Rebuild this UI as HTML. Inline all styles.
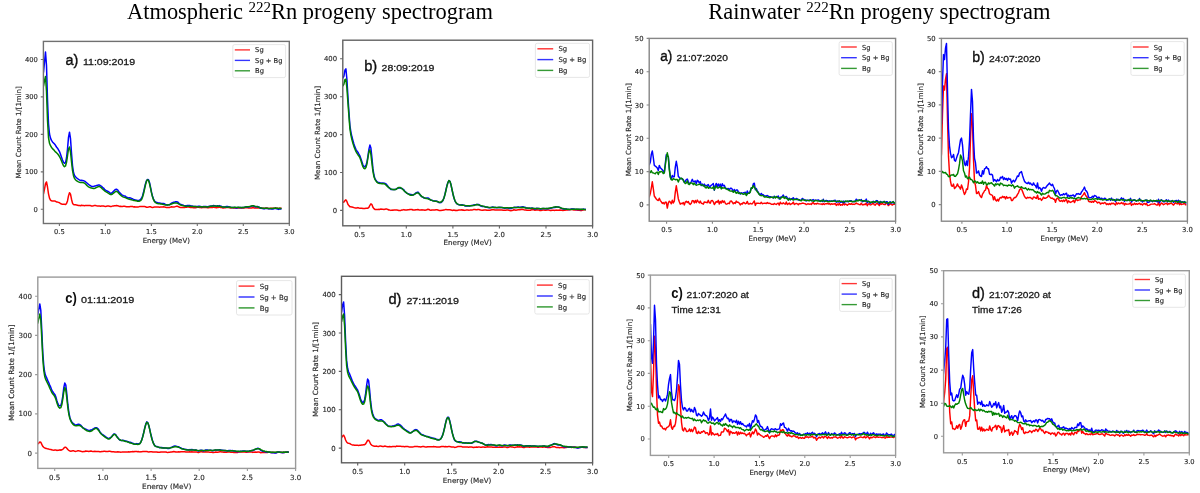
<!DOCTYPE html>
<html><head><meta charset="utf-8"><title>Rn progeny spectrograms</title><style>
html,body{margin:0;padding:0;background:#fff;}
body{width:1200px;height:493px;overflow:hidden;}
svg{display:block;}
.ttl{font-family:"Liberation Serif",serif;font-size:22.45px;fill:#000;}
.sup{font-size:15px;}
.fr{fill:none;stroke:#747474;stroke-width:1.4;}
.tk{fill:none;stroke:#666;stroke-width:1.1;}
.tl,.al,.lt{font-family:"DejaVu Sans",sans-serif;fill:#2a2a2a;stroke:#2a2a2a;stroke-width:0.15px;}
.lg{fill:#fff;fill-opacity:0.8;stroke:#e0e0e0;stroke-width:0.8;}
.an{font-family:"Liberation Sans",sans-serif;font-size:9.9px;fill:#1a1a1a;stroke:#1a1a1a;stroke-width:0.3px;}
.anl{font-family:"Liberation Sans",sans-serif;font-size:15.5px;fill:#111;stroke:#111;stroke-width:0.38px;}
.anb{font-weight:bold;stroke-width:0;}
</style></head><body>
<svg width="1200" height="493" viewBox="0 0 1200 493">
<defs>
<clipPath id="clAa"><rect x="43.4" y="41.4" width="245.9" height="182.1"/></clipPath>
<clipPath id="clAb"><rect x="342.8" y="40.2" width="249.8" height="185.6"/></clipPath>
<clipPath id="clAc"><rect x="37.8" y="277.1" width="257.8" height="191.3"/></clipPath>
<clipPath id="clAd"><rect x="341.5" y="276.3" width="251.1" height="186.5"/></clipPath>
<clipPath id="clRa"><rect x="649.2" y="38.4" width="246.4" height="182.8"/></clipPath>
<clipPath id="clRb"><rect x="941.4" y="38.4" width="246.0" height="182.8"/></clipPath>
<clipPath id="clRc"><rect x="650.4" y="275.1" width="245.2" height="180.3"/></clipPath>
<clipPath id="clRd"><rect x="943.6" y="270.7" width="245.7" height="182.1"/></clipPath>
<filter id="soft" x="0" y="0" width="1200" height="493" filterUnits="userSpaceOnUse"><feGaussianBlur stdDeviation="0.35"/></filter>
<clipPath id="clbot"><rect x="0" y="0" width="1200" height="489.6"/></clipPath>
</defs>
<rect width="1200" height="493" fill="#fff"/>
<text class="ttl" x="127" y="18.6">Atmospheric <tspan class="sup" dy="-6.6">222</tspan><tspan dy="6.6">Rn progeny spectrogram</tspan></text>
<text class="ttl" x="708.3" y="18.6">Rainwater <tspan class="sup" dy="-6.6">222</tspan><tspan dy="6.6">Rn progeny spectrogram</tspan></text>
<g filter="url(#soft)">
<g clip-path="url(#clAa)" fill="none" stroke-width="1.50" stroke-linejoin="round">
<path d="M42.5 195.6 L43.5 193.9 L44.5 189.2 L45.5 183.6 L46.5 182.0 L47.5 187.0 L48.5 193.8 L49.5 198.2 L50.5 200.1 L51.5 200.8 L52.5 201.1 L53.5 201.0 L54.5 200.9 L55.5 201.3 L56.5 201.9 L57.5 202.1 L58.5 202.4 L59.5 202.8 L60.5 203.5 L61.5 204.0 L62.5 204.2 L63.5 204.3 L64.5 204.3 L65.5 204.5 L66.5 203.6 L67.5 200.9 L68.5 195.9 L69.5 192.7 L70.5 194.2 L71.5 199.2 L72.5 203.1 L73.5 204.6 L74.5 204.8 L75.5 204.8 L76.5 205.0 L77.5 205.2 L78.5 205.5 L79.5 205.6 L80.5 205.7 L81.5 205.3 L82.5 205.5 L83.5 205.6 L84.5 205.7 L85.5 205.4 L86.5 205.4 L87.5 205.4 L88.5 205.4 L89.5 205.5 L90.5 205.6 L91.5 206.1 L92.5 205.9 L93.5 205.7 L94.5 205.4 L95.5 205.6 L96.5 205.8 L97.5 205.9 L98.5 206.1 L99.5 206.1 L100.5 206.2 L101.5 206.0 L102.5 205.9 L103.5 206.0 L104.5 206.3 L105.5 206.5 L106.5 206.3 L107.5 206.1 L108.5 206.1 L109.5 206.3 L110.5 206.5 L111.5 206.4 L112.5 206.1 L113.5 205.9 L114.5 205.7 L115.5 205.7 L116.5 205.6 L117.5 205.8 L118.5 206.0 L119.5 206.4 L120.5 206.2 L121.5 206.5 L122.5 206.4 L123.5 206.3 L124.5 206.3 L125.5 206.5 L126.5 206.7 L127.5 206.7 L128.5 206.7 L129.5 206.7 L130.5 206.4 L131.5 206.4 L132.5 206.5 L133.5 206.9 L134.5 206.8 L135.5 207.0 L136.5 207.0 L137.5 206.9 L138.5 206.9 L139.5 206.6 L140.5 206.6 L141.5 206.5 L142.5 206.6 L143.5 206.5 L144.5 206.6 L145.5 206.8 L146.5 207.2 L147.5 207.2 L148.5 207.0 L149.5 206.7 L150.5 206.8 L151.5 207.2 L152.5 207.4 L153.5 207.2 L154.5 207.1 L155.5 207.1 L156.5 207.1 L157.5 207.1 L158.5 207.1 L159.5 207.2 L160.5 207.1 L161.5 207.1 L162.5 206.9 L163.5 206.8 L164.5 206.9 L165.5 207.3 L166.5 207.4 L167.5 207.6 L168.5 207.6 L169.5 207.5 L170.5 207.1 L171.5 206.8 L172.5 207.0 L173.5 206.9 L174.5 206.9 L175.5 206.6 L176.5 206.3 L177.5 206.3 L178.5 206.7 L179.5 207.3 L180.5 207.4 L181.5 207.4 L182.5 207.5 L183.5 207.5 L184.5 207.6 L185.5 207.3 L186.5 207.2 L187.5 206.9 L188.5 207.1 L189.5 207.2 L190.5 207.4 L191.5 207.4 L192.5 207.5 L193.5 207.7 L194.5 207.8 L195.5 207.7 L196.5 207.5 L197.5 207.3 L198.5 207.3 L199.5 207.5 L200.5 207.6 L201.5 207.8 L202.5 207.5 L203.5 207.5 L204.5 207.3 L205.5 207.4 L206.5 207.5 L207.5 207.8 L208.5 207.7 L209.5 207.5 L210.5 207.6 L211.5 207.6 L212.5 207.5 L213.5 207.1 L214.5 207.4 L215.5 207.5 L216.5 207.8 L217.5 207.4 L218.5 207.4 L219.5 207.1 L220.5 207.5 L221.5 207.5 L222.5 207.9 L223.5 207.9 L224.5 207.8 L225.5 207.7 L226.5 207.6 L227.5 207.6 L228.5 207.6 L229.5 207.8 L230.5 208.0 L231.5 207.8 L232.5 207.8 L233.5 207.9 L234.5 207.9 L235.5 208.0 L236.5 208.1 L237.5 208.1 L238.5 207.8 L239.5 207.9 L240.5 207.9 L241.5 208.1 L242.5 208.0 L243.5 207.9 L244.5 207.9 L245.5 207.6 L246.5 207.8 L247.5 207.7 L248.5 207.9 L249.5 207.9 L250.5 207.9 L251.5 207.9 L252.5 207.7 L253.5 207.8 L254.5 208.0 L255.5 208.1 L256.5 208.1 L257.5 207.8 L258.5 207.9 L259.5 207.9 L260.5 208.3 L261.5 208.1 L262.5 208.2 L263.5 208.3 L264.5 208.4 L265.5 208.1 L266.5 208.1 L267.5 208.2 L268.5 208.5 L269.5 208.4 L270.5 208.2 L271.5 208.3 L272.5 208.2 L273.5 208.2 L274.5 208.2 L275.5 208.1 L276.5 208.3 L277.5 208.3 L278.5 208.6 L279.5 208.3 L280.5 208.2 L281.5 207.9" stroke="#ff0000"/>
<path d="M42.5 73.6 L43.5 72.3 L44.5 62.1 L45.5 52.1 L46.5 65.6 L47.5 99.4 L48.5 123.8 L49.5 134.0 L50.5 138.1 L51.5 140.4 L52.5 141.9 L53.5 143.0 L54.5 144.1 L55.5 145.3 L56.5 147.0 L57.5 148.2 L58.5 149.9 L59.5 151.6 L60.5 154.3 L61.5 157.3 L62.5 160.1 L63.5 162.4 L64.5 163.3 L65.5 162.6 L66.5 158.0 L67.5 149.0 L68.5 137.4 L69.5 132.2 L70.5 138.6 L71.5 153.0 L72.5 165.6 L73.5 172.6 L74.5 175.5 L75.5 176.8 L76.5 177.8 L77.5 178.5 L78.5 179.3 L79.5 180.0 L80.5 180.4 L81.5 180.3 L82.5 180.4 L83.5 180.7 L84.5 181.2 L85.5 181.7 L86.5 182.7 L87.5 183.5 L88.5 184.4 L89.5 185.1 L90.5 185.7 L91.5 186.5 L92.5 186.5 L93.5 186.5 L94.5 186.1 L95.5 185.9 L96.5 185.5 L97.5 185.3 L98.5 185.0 L99.5 185.1 L100.5 185.7 L101.5 186.3 L102.5 187.3 L103.5 188.0 L104.5 189.3 L105.5 190.2 L106.5 190.8 L107.5 191.2 L108.5 191.7 L109.5 192.5 L110.5 193.3 L111.5 193.2 L112.5 192.4 L113.5 191.2 L114.5 190.3 L115.5 189.4 L116.5 189.2 L117.5 189.8 L118.5 191.1 L119.5 192.6 L120.5 193.4 L121.5 194.6 L122.5 195.2 L123.5 195.7 L124.5 195.9 L125.5 196.3 L126.5 197.2 L127.5 197.5 L128.5 197.9 L129.5 197.8 L130.5 197.9 L131.5 198.4 L132.5 198.8 L133.5 199.5 L134.5 199.7 L135.5 200.1 L136.5 200.3 L137.5 200.5 L138.5 200.5 L139.5 200.1 L140.5 199.5 L141.5 198.2 L142.5 196.0 L143.5 192.3 L144.5 187.9 L145.5 183.7 L146.5 180.8 L147.5 179.4 L148.5 179.8 L149.5 182.5 L150.5 187.1 L151.5 192.1 L152.5 196.3 L153.5 199.1 L154.5 201.0 L155.5 201.8 L156.5 202.3 L157.5 202.6 L158.5 203.0 L159.5 203.1 L160.5 203.3 L161.5 203.5 L162.5 203.5 L163.5 203.5 L164.5 203.7 L165.5 204.6 L166.5 204.7 L167.5 205.0 L168.5 204.7 L169.5 204.8 L170.5 203.8 L171.5 203.2 L172.5 202.6 L173.5 202.3 L174.5 202.2 L175.5 201.8 L176.5 201.7 L177.5 201.9 L178.5 202.9 L179.5 203.8 L180.5 204.3 L181.5 204.6 L182.5 205.0 L183.5 205.3 L184.5 205.8 L185.5 205.7 L186.5 205.8 L187.5 205.4 L188.5 205.4 L189.5 205.4 L190.5 205.8 L191.5 206.0 L192.5 206.1 L193.5 206.4 L194.5 206.4 L195.5 206.5 L196.5 206.4 L197.5 206.4 L198.5 206.3 L199.5 206.3 L200.5 206.5 L201.5 206.8 L202.5 206.7 L203.5 206.5 L204.5 206.4 L205.5 206.4 L206.5 206.6 L207.5 206.7 L208.5 206.6 L209.5 206.2 L210.5 206.1 L211.5 205.9 L212.5 205.9 L213.5 205.5 L214.5 205.7 L215.5 205.9 L216.5 206.2 L217.5 205.8 L218.5 205.9 L219.5 205.6 L220.5 206.3 L221.5 206.3 L222.5 207.0 L223.5 207.1 L224.5 207.0 L225.5 206.8 L226.5 206.5 L227.5 206.6 L228.5 206.8 L229.5 207.0 L230.5 207.3 L231.5 207.5 L232.5 207.6 L233.5 207.5 L234.5 207.4 L235.5 207.7 L236.5 208.0 L237.5 207.8 L238.5 207.4 L239.5 207.5 L240.5 207.5 L241.5 207.8 L242.5 207.6 L243.5 207.5 L244.5 207.4 L245.5 206.9 L246.5 207.0 L247.5 206.7 L248.5 206.9 L249.5 206.7 L250.5 206.5 L251.5 206.2 L252.5 205.7 L253.5 206.0 L254.5 206.5 L255.5 206.9 L256.5 206.7 L257.5 206.5 L258.5 206.9 L259.5 207.5 L260.5 208.1 L261.5 208.2 L262.5 208.6 L263.5 208.7 L264.5 208.8 L265.5 208.4 L266.5 208.4 L267.5 208.5 L268.5 208.8 L269.5 208.8 L270.5 208.7 L271.5 209.0 L272.5 208.9 L273.5 208.9 L274.5 208.6 L275.5 208.3 L276.5 208.7 L277.5 208.9 L278.5 209.4 L279.5 208.9 L280.5 208.9 L281.5 208.7" stroke="#0000ff"/>
<path d="M42.5 85.8 L43.5 86.2 L44.5 80.7 L45.5 76.4 L46.5 91.5 L47.5 120.2 L48.5 137.5 L49.5 143.3 L50.5 145.7 L51.5 147.4 L52.5 148.6 L53.5 149.6 L54.5 150.8 L55.5 151.9 L56.5 152.8 L57.5 153.8 L58.5 155.0 L59.5 156.6 L60.5 158.5 L61.5 161.0 L62.5 163.5 L63.5 165.7 L64.5 166.7 L65.5 166.0 L66.5 162.3 L67.5 155.9 L68.5 149.0 L69.5 147.0 L70.5 152.0 L71.5 161.6 L72.5 170.3 L73.5 175.7 L74.5 178.4 L75.5 179.7 L76.5 180.7 L77.5 181.4 L78.5 181.9 L79.5 182.3 L80.5 182.5 L81.5 182.6 L82.5 182.5 L83.5 182.7 L84.5 183.2 L85.5 184.0 L86.5 185.1 L87.5 186.0 L88.5 186.8 L89.5 187.3 L90.5 187.7 L91.5 188.0 L92.5 188.3 L93.5 188.5 L94.5 188.4 L95.5 188.0 L96.5 187.4 L97.5 187.0 L98.5 186.6 L99.5 186.6 L100.5 187.1 L101.5 187.9 L102.5 189.0 L103.5 189.8 L104.5 190.8 L105.5 191.5 L106.5 192.2 L107.5 192.7 L108.5 193.3 L109.5 194.0 L110.5 194.5 L111.5 194.5 L112.5 194.0 L113.5 193.2 L114.5 192.4 L115.5 191.5 L116.5 191.3 L117.5 191.8 L118.5 192.9 L119.5 194.1 L120.5 195.0 L121.5 195.9 L122.5 196.6 L123.5 197.1 L124.5 197.4 L125.5 197.7 L126.5 198.2 L127.5 198.6 L128.5 199.0 L129.5 199.2 L130.5 199.5 L131.5 199.8 L132.5 200.1 L133.5 200.4 L134.5 200.5 L135.5 200.7 L136.5 200.8 L137.5 201.2 L138.5 201.2 L139.5 201.2 L140.5 200.7 L141.5 199.6 L142.5 197.3 L143.5 193.8 L144.5 189.3 L145.5 184.8 L146.5 181.2 L147.5 179.7 L148.5 180.5 L149.5 183.6 L150.5 188.2 L151.5 192.9 L152.5 196.8 L153.5 199.7 L154.5 201.6 L155.5 202.7 L156.5 203.2 L157.5 203.5 L158.5 203.8 L159.5 203.8 L160.5 203.9 L161.5 204.0 L162.5 204.3 L163.5 204.4 L164.5 204.8 L165.5 204.9 L166.5 204.9 L167.5 205.0 L168.5 204.7 L169.5 204.8 L170.5 204.3 L171.5 204.1 L172.5 203.5 L173.5 203.3 L174.5 203.1 L175.5 203.0 L176.5 203.0 L177.5 203.2 L178.5 203.8 L179.5 204.4 L180.5 205.0 L181.5 205.3 L182.5 205.6 L183.5 205.8 L184.5 206.1 L185.5 206.2 L186.5 206.4 L187.5 206.3 L188.5 206.3 L189.5 206.2 L190.5 206.3 L191.5 206.4 L192.5 206.6 L193.5 206.6 L194.5 206.6 L195.5 206.6 L196.5 206.7 L197.5 206.8 L198.5 206.9 L199.5 206.7 L200.5 206.7 L201.5 206.7 L202.5 206.9 L203.5 206.7 L204.5 206.7 L205.5 206.8 L206.5 206.9 L207.5 206.9 L208.5 206.7 L209.5 206.6 L210.5 206.3 L211.5 206.3 L212.5 206.1 L213.5 206.1 L214.5 206.0 L215.5 206.1 L216.5 206.2 L217.5 206.1 L218.5 206.2 L219.5 206.2 L220.5 206.5 L221.5 206.7 L222.5 206.9 L223.5 207.0 L224.5 207.1 L225.5 207.1 L226.5 207.2 L227.5 207.2 L228.5 207.1 L229.5 207.1 L230.5 207.3 L231.5 207.5 L232.5 207.5 L233.5 207.4 L234.5 207.3 L235.5 207.3 L236.5 207.4 L237.5 207.3 L238.5 207.3 L239.5 207.4 L240.5 207.4 L241.5 207.5 L242.5 207.4 L243.5 207.5 L244.5 207.2 L245.5 207.0 L246.5 206.8 L247.5 206.8 L248.5 206.8 L249.5 206.6 L250.5 206.3 L251.5 205.9 L252.5 205.8 L253.5 205.8 L254.5 206.1 L255.5 206.4 L256.5 206.6 L257.5 206.7 L258.5 207.1 L259.5 207.5 L260.5 207.9 L261.5 208.1 L262.5 208.2 L263.5 208.3 L264.5 208.3 L265.5 208.3 L266.5 208.2 L267.5 208.3 L268.5 208.4 L269.5 208.5 L270.5 208.5 L271.5 208.4 L272.5 208.4 L273.5 208.3 L274.5 208.3 L275.5 208.1 L276.5 208.3 L277.5 208.2 L278.5 208.4 L279.5 208.3 L280.5 208.5 L281.5 208.5" stroke="#008000"/>
</g>
<rect class="fr" style="stroke:#707070" x="43.4" y="41.4" width="245.9" height="182.1"/>
<text class="tl" style="font-size:6.75px" x="37.8" y="211.7" text-anchor="end">0</text>
<text class="tl" style="font-size:6.75px" x="37.8" y="174.3" text-anchor="end">100</text>
<text class="tl" style="font-size:6.75px" x="37.8" y="136.8" text-anchor="end">200</text>
<text class="tl" style="font-size:6.75px" x="37.8" y="99.4" text-anchor="end">300</text>
<text class="tl" style="font-size:6.75px" x="37.8" y="61.9" text-anchor="end">400</text>
<text class="tl" style="font-size:6.75px" x="59.4" y="234.2" text-anchor="middle">0.5</text>
<text class="tl" style="font-size:6.75px" x="105.4" y="234.2" text-anchor="middle">1.0</text>
<text class="tl" style="font-size:6.75px" x="151.4" y="234.2" text-anchor="middle">1.5</text>
<text class="tl" style="font-size:6.75px" x="197.3" y="234.2" text-anchor="middle">2.0</text>
<text class="tl" style="font-size:6.75px" x="243.3" y="234.2" text-anchor="middle">2.5</text>
<text class="tl" style="font-size:6.75px" x="289.3" y="234.2" text-anchor="middle">3.0</text>
<path class="tk" style="stroke:#707070" d="M40.8 209.3H43.4M40.8 171.9H43.4M40.8 134.4H43.4M40.8 96.9H43.4M40.8 59.5H43.4M59.4 223.5V226.1M105.4 223.5V226.1M151.4 223.5V226.1M197.3 223.5V226.1M243.3 223.5V226.1M289.3 223.5V226.1"/>
<text class="al" style="font-size:6.99px" transform="translate(20.9 132.4) rotate(-90)" text-anchor="middle">Mean Count Rate 1/[1min]</text>
<text class="al" style="font-size:6.99px" x="166.3" y="242.7" text-anchor="middle">Energy (MeV)</text>
<rect class="lg" x="232.8" y="44.6" width="52.8" height="33.0" rx="1.8"/>
<path d="M234.8 49.9H250.0" stroke="#ff0000" stroke-width="1.38" opacity="0.8"/>
<text class="lt" style="font-size:6.75px" x="255.1" y="52.4">Sg</text>
<path d="M234.8 60.4H250.0" stroke="#0000ff" stroke-width="1.38" opacity="0.8"/>
<text class="lt" style="font-size:6.75px" x="255.1" y="62.8">Sg + Bg</text>
<path d="M234.8 70.8H250.0" stroke="#008000" stroke-width="1.38" opacity="0.8"/>
<text class="lt" style="font-size:6.75px" x="255.1" y="73.3">Bg</text>
<text class="anl" x="65.4" y="65.3" textLength="12.9" lengthAdjust="spacingAndGlyphs">a)</text>
<text class="an" x="82.9" y="65.3" textLength="52.2" lengthAdjust="spacingAndGlyphs">11:09:2019</text>
<g clip-path="url(#clAb)" fill="none" stroke-width="1.50" stroke-linejoin="round">
<path d="M341.9 202.0 L342.9 202.3 L343.9 202.0 L344.9 200.7 L345.9 199.9 L346.9 201.4 L347.9 204.3 L348.9 205.6 L349.9 206.8 L350.9 206.7 L351.9 207.1 L352.9 207.3 L353.9 207.6 L354.9 207.9 L355.9 208.0 L356.9 208.0 L357.9 207.6 L358.9 208.0 L359.9 208.2 L360.9 208.3 L361.9 208.2 L362.9 208.4 L363.9 208.4 L364.9 208.4 L365.9 208.3 L366.9 208.3 L367.9 208.2 L368.9 207.4 L369.9 205.3 L370.9 203.8 L371.9 204.6 L372.9 207.2 L373.9 208.6 L374.9 209.4 L375.9 209.5 L376.9 209.6 L377.9 209.6 L378.9 209.3 L379.9 209.4 L380.9 209.0 L381.9 209.2 L382.9 209.3 L383.9 209.4 L384.9 209.2 L385.9 209.0 L386.9 209.1 L387.9 209.5 L388.9 210.0 L389.9 210.1 L390.9 210.4 L391.9 210.1 L392.9 210.2 L393.9 210.0 L394.9 210.0 L395.9 209.9 L396.9 210.0 L397.9 210.2 L398.9 210.5 L399.9 210.6 L400.9 210.4 L401.9 210.0 L402.9 209.9 L403.9 209.6 L404.9 210.1 L405.9 209.9 L406.9 210.0 L407.9 209.8 L408.9 209.8 L409.9 209.5 L410.9 209.5 L411.9 209.5 L412.9 210.0 L413.9 209.9 L414.9 210.0 L415.9 209.7 L416.9 209.8 L417.9 209.5 L418.9 209.9 L419.9 210.0 L420.9 210.1 L421.9 209.8 L422.9 209.9 L423.9 210.1 L424.9 210.3 L425.9 210.1 L426.9 209.7 L427.9 209.3 L428.9 209.5 L429.9 210.0 L430.9 210.3 L431.9 210.0 L432.9 210.0 L433.9 210.0 L434.9 210.0 L435.9 209.8 L436.9 209.7 L437.9 210.0 L438.9 210.4 L439.9 210.5 L440.9 210.6 L441.9 210.3 L442.9 210.3 L443.9 209.9 L444.9 209.7 L445.9 209.4 L446.9 209.7 L447.9 209.8 L448.9 209.8 L449.9 209.8 L450.9 210.0 L451.9 210.2 L452.9 210.4 L453.9 210.0 L454.9 210.4 L455.9 210.3 L456.9 210.6 L457.9 210.2 L458.9 210.0 L459.9 209.9 L460.9 209.9 L461.9 209.8 L462.9 210.2 L463.9 210.1 L464.9 210.4 L465.9 210.1 L466.9 210.0 L467.9 210.1 L468.9 210.2 L469.9 210.1 L470.9 209.9 L471.9 209.9 L472.9 209.7 L473.9 209.4 L474.9 209.6 L475.9 209.8 L476.9 209.8 L477.9 209.5 L478.9 209.5 L479.9 209.9 L480.9 210.1 L481.9 210.2 L482.9 210.2 L483.9 210.0 L484.9 210.0 L485.9 210.0 L486.9 210.3 L487.9 210.3 L488.9 210.3 L489.9 210.2 L490.9 210.0 L491.9 209.8 L492.9 209.7 L493.9 209.8 L494.9 209.9 L495.9 210.0 L496.9 210.1 L497.9 210.0 L498.9 210.1 L499.9 209.9 L500.9 210.0 L501.9 209.9 L502.9 210.2 L503.9 210.3 L504.9 210.2 L505.9 210.2 L506.9 209.9 L507.9 210.1 L508.9 210.3 L509.9 210.6 L510.9 210.8 L511.9 210.4 L512.9 210.2 L513.9 209.8 L514.9 210.0 L515.9 210.2 L516.9 210.1 L517.9 209.8 L518.9 209.7 L519.9 209.8 L520.9 209.5 L521.9 209.3 L522.9 209.4 L523.9 209.7 L524.9 209.9 L525.9 210.0 L526.9 210.2 L527.9 210.3 L528.9 210.3 L529.9 210.2 L530.9 210.2 L531.9 209.7 L532.9 209.8 L533.9 209.8 L534.9 210.2 L535.9 210.0 L536.9 209.8 L537.9 209.9 L538.9 210.1 L539.9 210.5 L540.9 210.5 L541.9 210.3 L542.9 210.1 L543.9 210.1 L544.9 210.2 L545.9 210.2 L546.9 210.0 L547.9 210.0 L548.9 210.1 L549.9 210.4 L550.9 210.5 L551.9 210.2 L552.9 210.3 L553.9 210.2 L554.9 210.4 L555.9 210.1 L556.9 210.2 L557.9 210.2 L558.9 210.2 L559.9 210.0 L560.9 210.3 L561.9 210.3 L562.9 210.5 L563.9 210.3 L564.9 210.2 L565.9 210.0 L566.9 209.8 L567.9 209.9 L568.9 209.8 L569.9 209.8 L570.9 209.5 L571.9 209.5 L572.9 209.7 L573.9 209.9 L574.9 209.9 L575.9 210.1 L576.9 210.1 L577.9 210.3 L578.9 210.1 L579.9 210.4 L580.9 210.5 L581.9 210.4 L582.9 210.0 L583.9 209.7 L584.9 209.7 L585.9 209.9" stroke="#ff0000"/>
<path d="M341.9 75.1 L342.9 78.0 L343.9 76.2 L344.9 70.3 L345.9 68.9 L346.9 79.3 L347.9 96.3 L348.9 111.5 L349.9 125.6 L350.9 132.1 L351.9 136.8 L352.9 140.5 L353.9 144.0 L354.9 146.9 L355.9 149.3 L356.9 151.0 L357.9 152.2 L358.9 154.1 L359.9 155.9 L360.9 158.7 L361.9 161.7 L362.9 164.8 L363.9 166.3 L364.9 166.8 L365.9 165.6 L366.9 162.3 L367.9 156.3 L368.9 149.4 L369.9 145.1 L370.9 148.1 L371.9 157.5 L372.9 168.4 L373.9 175.0 L374.9 178.6 L375.9 180.2 L376.9 181.6 L377.9 182.3 L378.9 182.4 L379.9 182.9 L380.9 182.9 L381.9 183.3 L382.9 183.1 L383.9 183.2 L384.9 183.3 L385.9 183.8 L386.9 185.0 L387.9 186.3 L388.9 187.6 L389.9 188.4 L390.9 189.4 L391.9 189.5 L392.9 189.6 L393.9 189.5 L394.9 189.6 L395.9 189.3 L396.9 188.7 L397.9 188.2 L398.9 187.8 L399.9 188.0 L400.9 188.3 L401.9 188.4 L402.9 189.2 L403.9 189.9 L404.9 191.6 L405.9 192.2 L406.9 193.2 L407.9 193.6 L408.9 194.0 L409.9 194.2 L410.9 194.6 L411.9 194.8 L412.9 195.1 L413.9 194.5 L414.9 193.8 L415.9 192.9 L416.9 192.5 L417.9 192.1 L418.9 193.2 L419.9 194.5 L420.9 195.9 L421.9 196.8 L422.9 197.1 L423.9 197.9 L424.9 198.1 L425.9 198.4 L426.9 198.0 L427.9 197.9 L428.9 198.4 L429.9 199.5 L430.9 200.3 L431.9 200.3 L432.9 200.7 L433.9 200.9 L434.9 201.1 L435.9 201.0 L436.9 201.2 L437.9 201.9 L438.9 202.6 L439.9 202.7 L440.9 202.6 L441.9 201.6 L442.9 200.6 L443.9 198.0 L444.9 194.6 L445.9 190.0 L446.9 185.8 L447.9 182.5 L448.9 180.6 L449.9 181.3 L450.9 184.3 L451.9 189.1 L452.9 193.7 L453.9 197.7 L454.9 200.9 L455.9 202.6 L456.9 203.9 L457.9 204.3 L458.9 204.8 L459.9 204.9 L460.9 204.9 L461.9 204.7 L462.9 205.0 L463.9 205.2 L464.9 205.9 L465.9 205.7 L466.9 205.9 L467.9 205.8 L468.9 206.0 L469.9 205.9 L470.9 205.6 L471.9 205.5 L472.9 205.3 L473.9 205.0 L474.9 204.8 L475.9 204.7 L476.9 204.5 L477.9 204.5 L478.9 204.6 L479.9 205.5 L480.9 206.0 L481.9 206.4 L482.9 206.5 L483.9 206.5 L484.9 206.6 L485.9 207.0 L486.9 207.3 L487.9 207.5 L488.9 207.7 L489.9 207.7 L490.9 207.5 L491.9 207.2 L492.9 207.0 L493.9 207.4 L494.9 207.4 L495.9 207.6 L496.9 207.7 L497.9 207.6 L498.9 207.6 L499.9 207.3 L500.9 207.5 L501.9 207.4 L502.9 207.8 L503.9 208.1 L504.9 208.2 L505.9 208.1 L506.9 207.7 L507.9 208.0 L508.9 208.4 L509.9 208.5 L510.9 208.4 L511.9 208.2 L512.9 207.7 L513.9 207.4 L514.9 207.2 L515.9 207.6 L516.9 207.2 L517.9 207.0 L518.9 207.1 L519.9 207.5 L520.9 207.1 L521.9 207.0 L522.9 206.8 L523.9 207.2 L524.9 207.2 L525.9 207.9 L526.9 208.1 L527.9 208.2 L528.9 208.2 L529.9 208.1 L530.9 208.5 L531.9 207.9 L532.9 208.4 L533.9 208.5 L534.9 209.0 L535.9 208.7 L536.9 208.3 L537.9 208.4 L538.9 208.4 L539.9 208.9 L540.9 209.0 L541.9 208.7 L542.9 208.5 L543.9 208.6 L544.9 208.7 L545.9 208.8 L546.9 208.6 L547.9 208.8 L548.9 208.4 L549.9 208.5 L550.9 208.2 L551.9 207.8 L552.9 207.8 L553.9 207.4 L554.9 207.5 L555.9 207.0 L556.9 207.0 L557.9 206.9 L558.9 207.1 L559.9 207.5 L560.9 208.2 L561.9 208.5 L562.9 208.9 L563.9 208.9 L564.9 209.1 L565.9 209.1 L566.9 209.1 L567.9 209.4 L568.9 209.4 L569.9 209.4 L570.9 209.1 L571.9 209.0 L572.9 209.0 L573.9 209.1 L574.9 209.2 L575.9 209.4 L576.9 209.4 L577.9 209.6 L578.9 209.2 L579.9 209.6 L580.9 209.5 L581.9 209.4 L582.9 209.3 L583.9 209.1 L584.9 209.4 L585.9 209.3" stroke="#0000ff"/>
<path d="M341.9 83.0 L342.9 85.8 L343.9 84.1 L344.9 79.7 L345.9 79.2 L346.9 88.1 L347.9 102.1 L348.9 115.7 L349.9 128.6 L350.9 135.1 L351.9 139.6 L352.9 143.2 L353.9 146.4 L354.9 149.0 L355.9 151.4 L356.9 153.1 L357.9 154.7 L358.9 156.0 L359.9 157.7 L360.9 160.5 L361.9 163.7 L362.9 166.7 L363.9 168.3 L364.9 168.7 L365.9 167.6 L366.9 164.1 L367.9 158.0 L368.9 151.9 L369.9 149.8 L370.9 154.4 L371.9 162.9 L372.9 171.2 L373.9 176.4 L374.9 179.3 L375.9 180.9 L376.9 182.2 L377.9 183.0 L378.9 183.3 L379.9 183.5 L380.9 183.6 L381.9 183.8 L382.9 183.6 L383.9 183.7 L384.9 184.2 L385.9 185.0 L386.9 185.9 L387.9 186.9 L388.9 187.6 L389.9 188.3 L390.9 188.9 L391.9 189.4 L392.9 189.4 L393.9 189.7 L394.9 189.5 L395.9 189.4 L396.9 188.6 L397.9 188.0 L398.9 187.4 L399.9 187.5 L400.9 187.8 L401.9 188.7 L402.9 189.5 L403.9 190.6 L404.9 191.5 L405.9 192.4 L406.9 193.2 L407.9 193.9 L408.9 194.4 L409.9 195.0 L410.9 195.3 L411.9 195.2 L412.9 195.1 L413.9 194.6 L414.9 194.1 L415.9 193.4 L416.9 193.0 L417.9 192.9 L418.9 193.5 L419.9 194.6 L420.9 195.6 L421.9 196.6 L422.9 197.1 L423.9 197.7 L424.9 198.0 L425.9 198.4 L426.9 198.6 L427.9 198.9 L428.9 199.2 L429.9 199.5 L430.9 200.0 L431.9 200.4 L432.9 200.7 L433.9 200.9 L434.9 201.2 L435.9 201.3 L436.9 201.5 L437.9 201.7 L438.9 202.2 L439.9 202.3 L440.9 202.1 L441.9 201.5 L442.9 200.3 L443.9 198.2 L444.9 194.8 L445.9 190.7 L446.9 186.2 L447.9 182.6 L448.9 180.5 L449.9 181.3 L450.9 184.4 L451.9 189.0 L452.9 193.5 L453.9 197.6 L454.9 200.5 L455.9 202.5 L456.9 203.6 L457.9 204.2 L458.9 204.6 L459.9 204.9 L460.9 205.1 L461.9 205.3 L462.9 205.2 L463.9 205.3 L464.9 205.6 L465.9 205.7 L466.9 205.8 L467.9 205.7 L468.9 205.7 L469.9 205.9 L470.9 205.8 L471.9 205.7 L472.9 205.6 L473.9 205.5 L474.9 205.1 L475.9 204.8 L476.9 204.5 L477.9 204.8 L478.9 204.9 L479.9 205.3 L480.9 205.6 L481.9 205.9 L482.9 206.1 L483.9 206.4 L484.9 206.9 L485.9 207.1 L486.9 207.0 L487.9 207.1 L488.9 207.4 L489.9 207.6 L490.9 207.6 L491.9 207.4 L492.9 207.3 L493.9 207.4 L494.9 207.3 L495.9 207.6 L496.9 207.6 L497.9 207.5 L498.9 207.3 L499.9 207.4 L500.9 207.6 L501.9 207.6 L502.9 207.7 L503.9 207.7 L504.9 207.9 L505.9 207.7 L506.9 207.8 L507.9 207.8 L508.9 207.9 L509.9 207.8 L510.9 207.8 L511.9 207.8 L512.9 207.7 L513.9 207.6 L514.9 207.5 L515.9 207.4 L516.9 207.4 L517.9 207.4 L518.9 207.4 L519.9 207.6 L520.9 207.5 L521.9 207.5 L522.9 207.3 L523.9 207.5 L524.9 207.8 L525.9 208.1 L526.9 208.1 L527.9 208.1 L528.9 208.3 L529.9 208.2 L530.9 208.4 L531.9 208.2 L532.9 208.3 L533.9 208.4 L534.9 208.5 L535.9 208.5 L536.9 208.4 L537.9 208.4 L538.9 208.5 L539.9 208.8 L540.9 208.7 L541.9 208.6 L542.9 208.5 L543.9 208.5 L544.9 208.5 L545.9 208.5 L546.9 208.5 L547.9 208.5 L548.9 208.3 L549.9 208.1 L550.9 207.8 L551.9 207.7 L552.9 207.4 L553.9 207.1 L554.9 206.9 L555.9 206.8 L556.9 207.0 L557.9 207.1 L558.9 207.2 L559.9 207.5 L560.9 207.9 L561.9 208.3 L562.9 208.6 L563.9 208.8 L564.9 209.0 L565.9 209.1 L566.9 209.3 L567.9 209.3 L568.9 209.3 L569.9 209.4 L570.9 209.4 L571.9 209.3 L572.9 209.3 L573.9 209.2 L574.9 209.2 L575.9 209.2 L576.9 209.1 L577.9 209.2 L578.9 209.2 L579.9 209.5 L580.9 209.2 L581.9 209.2 L582.9 209.3 L583.9 209.6 L584.9 209.6 L585.9 209.5" stroke="#008000"/>
</g>
<rect class="fr" style="stroke:#636363" x="342.8" y="40.2" width="249.8" height="185.6"/>
<text class="tl" style="font-size:6.88px" x="337.1" y="212.9" text-anchor="end">0</text>
<text class="tl" style="font-size:6.88px" x="337.1" y="175.0" text-anchor="end">100</text>
<text class="tl" style="font-size:6.88px" x="337.1" y="137.1" text-anchor="end">200</text>
<text class="tl" style="font-size:6.88px" x="337.1" y="99.2" text-anchor="end">300</text>
<text class="tl" style="font-size:6.88px" x="337.1" y="61.3" text-anchor="end">400</text>
<text class="tl" style="font-size:6.88px" x="359.7" y="236.7" text-anchor="middle">0.5</text>
<text class="tl" style="font-size:6.88px" x="406.3" y="236.7" text-anchor="middle">1.0</text>
<text class="tl" style="font-size:6.88px" x="452.9" y="236.7" text-anchor="middle">1.5</text>
<text class="tl" style="font-size:6.88px" x="499.4" y="236.7" text-anchor="middle">2.0</text>
<text class="tl" style="font-size:6.88px" x="546.0" y="236.7" text-anchor="middle">2.5</text>
<text class="tl" style="font-size:6.88px" x="592.6" y="236.7" text-anchor="middle">3.0</text>
<path class="tk" style="stroke:#636363" d="M340.1 210.4H342.8M340.1 172.5H342.8M340.1 134.6H342.8M340.1 96.7H342.8M340.1 58.8H342.8M359.7 225.8V228.5M406.3 225.8V228.5M452.9 225.8V228.5M499.4 225.8V228.5M546.0 225.8V228.5M592.6 225.8V228.5"/>
<text class="al" style="font-size:7.13px" transform="translate(319.9 133.0) rotate(-90)" text-anchor="middle">Mean Count Rate 1/[1min]</text>
<text class="al" style="font-size:7.13px" x="467.7" y="245.4" text-anchor="middle">Energy (MeV)</text>
<rect class="lg" x="535.4" y="43.3" width="54.2" height="34.1" rx="1.8"/>
<path d="M537.4 48.8H553.2" stroke="#ff0000" stroke-width="1.43" opacity="0.8"/>
<text class="lt" style="font-size:6.88px" x="558.4" y="51.3">Sg</text>
<path d="M537.4 59.6H553.2" stroke="#0000ff" stroke-width="1.43" opacity="0.8"/>
<text class="lt" style="font-size:6.88px" x="558.4" y="62.1">Sg + Bg</text>
<path d="M537.4 70.4H553.2" stroke="#008000" stroke-width="1.43" opacity="0.8"/>
<text class="lt" style="font-size:6.88px" x="558.4" y="72.9">Bg</text>
<text class="anl" x="364.2" y="71.0" textLength="13.1" lengthAdjust="spacingAndGlyphs">b)</text>
<text class="an" x="381.6" y="71.0" textLength="52.8" lengthAdjust="spacingAndGlyphs">28:09:2019</text>
<g clip-path="url(#clAc)" fill="none" stroke-width="1.50" stroke-linejoin="round">
<path d="M36.8 443.9 L37.8 443.9 L38.8 443.1 L39.8 441.9 L40.8 442.2 L41.8 444.4 L42.8 446.4 L43.8 447.3 L44.8 448.0 L45.8 448.4 L46.8 448.6 L47.8 448.9 L48.8 449.1 L49.8 449.4 L50.8 449.4 L51.8 449.9 L52.8 450.1 L53.8 450.2 L54.8 450.0 L55.8 450.0 L56.8 450.4 L57.8 450.2 L58.8 450.3 L59.8 449.8 L60.8 450.2 L61.8 449.8 L62.8 449.4 L63.8 448.1 L64.8 447.3 L65.8 447.3 L66.8 448.2 L67.8 449.5 L68.8 450.3 L69.8 451.0 L70.8 451.2 L71.8 451.0 L72.8 450.8 L73.8 450.8 L74.8 451.3 L75.8 451.4 L76.8 451.1 L77.8 450.8 L78.8 450.8 L79.8 451.1 L80.8 451.3 L81.8 451.6 L82.8 451.7 L83.8 451.6 L84.8 451.5 L85.8 451.0 L86.8 451.2 L87.8 451.2 L88.8 451.4 L89.8 451.2 L90.8 451.0 L91.8 451.3 L92.8 451.5 L93.8 451.4 L94.8 451.3 L95.8 451.5 L96.8 451.5 L97.8 451.4 L98.8 451.5 L99.8 451.7 L100.8 451.8 L101.8 451.6 L102.8 451.6 L103.8 451.3 L104.8 451.3 L105.8 451.5 L106.8 451.6 L107.8 451.6 L108.8 451.3 L109.8 451.3 L110.8 451.5 L111.8 451.7 L112.8 451.7 L113.8 451.8 L114.8 451.9 L115.8 451.9 L116.8 451.9 L117.8 451.7 L118.8 452.0 L119.8 452.1 L120.8 452.2 L121.8 452.1 L122.8 451.9 L123.8 452.0 L124.8 451.9 L125.8 452.1 L126.8 451.9 L127.8 452.0 L128.8 451.8 L129.8 451.9 L130.8 451.7 L131.8 451.8 L132.8 451.6 L133.8 451.8 L134.8 451.5 L135.8 451.6 L136.8 451.5 L137.8 451.8 L138.8 451.6 L139.8 451.9 L140.8 451.8 L141.8 451.7 L142.8 451.6 L143.8 451.5 L144.8 451.5 L145.8 451.5 L146.8 451.6 L147.8 451.8 L148.8 452.1 L149.8 451.8 L150.8 451.7 L151.8 451.7 L152.8 451.9 L153.8 452.1 L154.8 452.0 L155.8 452.0 L156.8 452.0 L157.8 452.3 L158.8 452.2 L159.8 452.3 L160.8 452.1 L161.8 452.0 L162.8 452.1 L163.8 452.0 L164.8 452.1 L165.8 452.0 L166.8 452.3 L167.8 452.4 L168.8 452.3 L169.8 452.2 L170.8 452.1 L171.8 452.0 L172.8 451.7 L173.8 451.5 L174.8 451.7 L175.8 452.0 L176.8 452.1 L177.8 452.0 L178.8 451.7 L179.8 451.9 L180.8 451.7 L181.8 451.8 L182.8 451.7 L183.8 451.8 L184.8 451.8 L185.8 451.9 L186.8 452.0 L187.8 451.9 L188.8 452.0 L189.8 451.8 L190.8 451.9 L191.8 451.7 L192.8 452.0 L193.8 452.0 L194.8 451.9 L195.8 451.9 L196.8 452.1 L197.8 452.4 L198.8 452.4 L199.8 452.0 L200.8 451.8 L201.8 451.7 L202.8 452.1 L203.8 452.1 L204.8 452.1 L205.8 451.8 L206.8 451.9 L207.8 451.9 L208.8 452.1 L209.8 452.2 L210.8 452.3 L211.8 452.3 L212.8 452.5 L213.8 452.4 L214.8 452.3 L215.8 452.1 L216.8 452.3 L217.8 452.2 L218.8 452.1 L219.8 451.8 L220.8 451.8 L221.8 451.9 L222.8 452.0 L223.8 452.2 L224.8 452.1 L225.8 452.3 L226.8 452.2 L227.8 452.1 L228.8 452.0 L229.8 452.1 L230.8 452.3 L231.8 452.2 L232.8 452.3 L233.8 452.4 L234.8 452.4 L235.8 452.4 L236.8 452.3 L237.8 452.4 L238.8 452.1 L239.8 451.9 L240.8 451.7 L241.8 452.0 L242.8 451.9 L243.8 451.9 L244.8 451.9 L245.8 452.2 L246.8 452.2 L247.8 452.0 L248.8 452.0 L249.8 451.8 L250.8 452.1 L251.8 452.0 L252.8 452.4 L253.8 452.1 L254.8 452.2 L255.8 452.1 L256.8 452.2 L257.8 452.0 L258.8 452.1 L259.8 452.3 L260.8 452.7 L261.8 452.5 L262.8 452.5 L263.8 452.3 L264.8 452.4 L265.8 452.5 L266.8 452.5 L267.8 452.4 L268.8 452.1 L269.8 452.3 L270.8 452.4 L271.8 452.6 L272.8 452.3 L273.8 452.4 L274.8 452.4 L275.8 452.6 L276.8 452.4 L277.8 452.3 L278.8 452.2 L279.8 452.3 L280.8 452.3 L281.8 452.5 L282.8 452.5 L283.8 452.4 L284.8 452.2 L285.8 452.2 L286.8 452.0 L287.8 452.2 L288.8 452.3" stroke="#ff0000"/>
<path d="M36.8 314.6 L37.8 314.6 L38.8 309.1 L39.8 303.9 L40.8 310.3 L41.8 330.9 L42.8 353.1 L43.8 366.0 L44.8 373.0 L45.8 376.2 L46.8 378.2 L47.8 380.6 L48.8 382.7 L49.8 385.4 L50.8 387.4 L51.8 390.2 L52.8 391.8 L53.8 393.2 L54.8 394.4 L55.8 396.7 L56.8 400.5 L57.8 403.4 L58.8 405.5 L59.8 405.8 L60.8 405.5 L61.8 402.2 L62.8 396.0 L63.8 387.6 L64.8 383.0 L65.8 385.1 L66.8 393.9 L67.8 404.2 L68.8 412.1 L69.8 417.2 L70.8 420.2 L71.8 421.9 L72.8 423.0 L73.8 423.9 L74.8 424.8 L75.8 425.0 L76.8 424.8 L77.8 424.3 L78.8 424.2 L79.8 424.6 L80.8 425.3 L81.8 426.5 L82.8 427.7 L83.8 428.1 L84.8 428.9 L85.8 429.0 L86.8 429.8 L87.8 430.1 L88.8 430.4 L89.8 430.5 L90.8 430.0 L91.8 429.9 L92.8 429.2 L93.8 428.6 L94.8 428.0 L95.8 427.8 L96.8 427.8 L97.8 428.6 L98.8 429.8 L99.8 431.7 L100.8 433.1 L101.8 434.1 L102.8 434.7 L103.8 435.5 L104.8 436.1 L105.8 437.0 L106.8 437.6 L107.8 438.4 L108.8 438.4 L109.8 438.0 L110.8 437.4 L111.8 436.5 L112.8 435.2 L113.8 434.0 L114.8 434.1 L115.8 434.9 L116.8 436.4 L117.8 437.6 L118.8 439.1 L119.8 440.0 L120.8 440.4 L121.8 440.5 L122.8 440.3 L123.8 440.6 L124.8 440.7 L125.8 441.2 L126.8 441.3 L127.8 441.7 L128.8 441.8 L129.8 442.5 L130.8 442.3 L131.8 443.0 L132.8 443.2 L133.8 444.0 L134.8 443.9 L135.8 444.0 L136.8 443.6 L137.8 444.0 L138.8 443.7 L139.8 443.6 L140.8 442.1 L141.8 439.7 L142.8 436.3 L143.8 432.2 L144.8 427.7 L145.8 424.0 L146.8 421.9 L147.8 422.6 L148.8 425.8 L149.8 429.6 L150.8 434.3 L151.8 438.0 L152.8 441.6 L153.8 444.0 L154.8 445.7 L155.8 446.4 L156.8 446.4 L157.8 446.9 L158.8 447.3 L159.8 447.7 L160.8 447.6 L161.8 447.5 L162.8 447.9 L163.8 447.8 L164.8 448.1 L165.8 447.9 L166.8 448.2 L167.8 448.5 L168.8 448.4 L169.8 448.2 L170.8 447.5 L171.8 447.2 L172.8 446.6 L173.8 446.3 L174.8 446.1 L175.8 446.3 L176.8 446.5 L177.8 446.7 L178.8 446.8 L179.8 447.4 L180.8 447.9 L181.8 448.5 L182.8 448.7 L183.8 449.0 L184.8 449.2 L185.8 449.4 L186.8 449.6 L187.8 449.7 L188.8 449.9 L189.8 449.6 L190.8 449.7 L191.8 449.5 L192.8 449.8 L193.8 449.9 L194.8 449.9 L195.8 450.1 L196.8 450.3 L197.8 450.8 L198.8 450.9 L199.8 450.4 L200.8 450.2 L201.8 450.3 L202.8 450.7 L203.8 450.9 L204.8 450.5 L205.8 449.9 L206.8 450.0 L207.8 450.1 L208.8 450.4 L209.8 450.3 L210.8 450.3 L211.8 450.4 L212.8 450.7 L213.8 450.4 L214.8 450.3 L215.8 449.9 L216.8 450.2 L217.8 449.9 L218.8 449.9 L219.8 449.7 L220.8 450.1 L221.8 450.3 L222.8 450.3 L223.8 450.5 L224.8 450.4 L225.8 450.7 L226.8 450.8 L227.8 450.7 L228.8 450.6 L229.8 450.6 L230.8 450.6 L231.8 450.7 L232.8 450.6 L233.8 451.1 L234.8 451.1 L235.8 451.5 L236.8 451.4 L237.8 451.7 L238.8 451.4 L239.8 451.4 L240.8 451.2 L241.8 451.3 L242.8 451.1 L243.8 451.1 L244.8 451.1 L245.8 451.2 L246.8 451.4 L247.8 451.3 L248.8 451.4 L249.8 450.8 L250.8 450.8 L251.8 450.4 L252.8 450.7 L253.8 450.0 L254.8 449.7 L255.8 449.1 L256.8 448.7 L257.8 448.3 L258.8 448.5 L259.8 449.3 L260.8 450.4 L261.8 450.9 L262.8 451.3 L263.8 451.4 L264.8 451.6 L265.8 452.0 L266.8 452.1 L267.8 452.1 L268.8 451.9 L269.8 452.3 L270.8 452.5 L271.8 452.7 L272.8 452.5 L273.8 452.7 L274.8 452.9 L275.8 453.1 L276.8 452.6 L277.8 452.0 L278.8 452.0 L279.8 452.1 L280.8 452.5 L281.8 452.6 L282.8 452.8 L283.8 452.6 L284.8 452.4 L285.8 452.1 L286.8 452.2 L287.8 452.1 L288.8 452.3" stroke="#0000ff"/>
<path d="M36.8 322.9 L37.8 323.0 L38.8 318.3 L39.8 314.1 L40.8 319.9 L41.8 338.4 L42.8 358.5 L43.8 370.7 L44.8 376.8 L45.8 379.7 L46.8 381.6 L47.8 383.7 L48.8 385.7 L49.8 388.2 L50.8 390.3 L51.8 392.5 L52.8 393.9 L53.8 395.0 L54.8 396.6 L55.8 399.0 L56.8 402.4 L57.8 405.3 L58.8 407.3 L59.8 408.2 L60.8 407.7 L61.8 404.8 L62.8 398.9 L63.8 391.7 L64.8 387.6 L65.8 389.8 L66.8 397.8 L67.8 407.1 L68.8 414.1 L69.8 418.3 L70.8 420.9 L71.8 422.8 L72.8 424.1 L73.8 425.0 L74.8 425.5 L75.8 425.7 L76.8 425.8 L77.8 425.6 L78.8 425.5 L79.8 425.5 L80.8 426.1 L81.8 426.8 L82.8 427.8 L83.8 428.5 L84.8 429.4 L85.8 430.0 L86.8 430.7 L87.8 431.1 L88.8 431.2 L89.8 431.4 L90.8 431.2 L91.8 430.8 L92.8 430.0 L93.8 429.3 L94.8 428.6 L95.8 428.3 L96.8 428.5 L97.8 429.5 L98.8 430.7 L99.8 432.2 L100.8 433.5 L101.8 434.5 L102.8 435.3 L103.8 436.2 L104.8 436.9 L105.8 437.7 L106.8 438.2 L107.8 438.8 L108.8 439.0 L109.8 438.7 L110.8 437.8 L111.8 436.8 L112.8 435.5 L113.8 434.4 L114.8 434.4 L115.8 435.2 L116.8 436.8 L117.8 438.0 L118.8 439.0 L119.8 439.8 L120.8 440.2 L121.8 440.4 L122.8 440.5 L123.8 440.8 L124.8 441.2 L125.8 441.5 L126.8 441.6 L127.8 442.1 L128.8 442.3 L129.8 442.9 L130.8 443.0 L131.8 443.4 L132.8 443.7 L133.8 444.0 L134.8 444.3 L135.8 444.3 L136.8 444.3 L137.8 444.4 L138.8 444.3 L139.8 443.7 L140.8 442.3 L141.8 439.9 L142.8 436.6 L143.8 432.5 L144.8 428.2 L145.8 424.4 L146.8 422.3 L147.8 422.8 L148.8 425.5 L149.8 429.8 L150.8 434.6 L151.8 438.7 L152.8 441.9 L153.8 444.2 L154.8 445.8 L155.8 446.4 L156.8 446.7 L157.8 446.9 L158.8 447.2 L159.8 447.4 L160.8 447.7 L161.8 447.9 L162.8 448.0 L163.8 448.1 L164.8 448.0 L165.8 448.1 L166.8 448.1 L167.8 448.1 L168.8 448.0 L169.8 447.9 L170.8 447.7 L171.8 447.5 L172.8 447.2 L173.8 446.9 L174.8 446.7 L175.8 446.6 L176.8 446.7 L177.8 447.0 L178.8 447.4 L179.8 447.7 L180.8 448.3 L181.8 448.8 L182.8 449.1 L183.8 449.3 L184.8 449.6 L185.8 449.7 L186.8 449.9 L187.8 449.9 L188.8 449.9 L189.8 449.9 L190.8 450.0 L191.8 450.1 L192.8 450.1 L193.8 450.1 L194.8 450.2 L195.8 450.1 L196.8 450.3 L197.8 450.4 L198.8 450.7 L199.8 450.6 L200.8 450.6 L201.8 450.6 L202.8 450.5 L203.8 450.5 L204.8 450.5 L205.8 450.5 L206.8 450.5 L207.8 450.5 L208.8 450.3 L209.8 450.2 L210.8 450.3 L211.8 450.4 L212.8 450.4 L213.8 450.2 L214.8 450.1 L215.8 450.0 L216.8 450.0 L217.8 450.0 L218.8 450.0 L219.8 450.0 L220.8 450.2 L221.8 450.4 L222.8 450.5 L223.8 450.4 L224.8 450.4 L225.8 450.5 L226.8 450.9 L227.8 450.9 L228.8 450.9 L229.8 450.9 L230.8 450.7 L231.8 450.8 L232.8 450.7 L233.8 450.9 L234.8 450.9 L235.8 451.1 L236.8 451.2 L237.8 451.3 L238.8 451.2 L239.8 451.4 L240.8 451.3 L241.8 451.4 L242.8 451.2 L243.8 451.3 L244.8 451.3 L245.8 451.2 L246.8 451.3 L247.8 451.3 L248.8 451.2 L249.8 450.9 L250.8 450.7 L251.8 450.5 L252.8 450.2 L253.8 449.9 L254.8 449.3 L255.8 449.1 L256.8 448.7 L257.8 448.7 L258.8 448.7 L259.8 449.0 L260.8 449.6 L261.8 450.1 L262.8 450.7 L263.8 451.0 L264.8 451.3 L265.8 451.5 L266.8 451.6 L267.8 452.0 L268.8 452.0 L269.8 452.2 L270.8 452.1 L271.8 452.2 L272.8 452.2 L273.8 452.3 L274.8 452.3 L275.8 452.3 L276.8 452.1 L277.8 452.0 L278.8 452.1 L279.8 452.2 L280.8 452.3 L281.8 452.2 L282.8 452.3 L283.8 452.1 L284.8 452.2 L285.8 452.1 L286.8 452.2 L287.8 452.1 L288.8 452.0" stroke="#008000"/>
</g>
<rect class="fr" style="stroke:#9a9a9a" x="37.8" y="277.1" width="257.8" height="191.3"/>
<text class="tl" style="font-size:7.05px" x="31.9" y="455.6" text-anchor="end">0</text>
<text class="tl" style="font-size:7.05px" x="31.9" y="416.4" text-anchor="end">100</text>
<text class="tl" style="font-size:7.05px" x="31.9" y="377.2" text-anchor="end">200</text>
<text class="tl" style="font-size:7.05px" x="31.9" y="338.0" text-anchor="end">300</text>
<text class="tl" style="font-size:7.05px" x="31.9" y="298.7" text-anchor="end">400</text>
<text class="tl" style="font-size:7.05px" x="54.7" y="479.6" text-anchor="middle">0.5</text>
<text class="tl" style="font-size:7.05px" x="102.9" y="479.6" text-anchor="middle">1.0</text>
<text class="tl" style="font-size:7.05px" x="151.1" y="479.6" text-anchor="middle">1.5</text>
<text class="tl" style="font-size:7.05px" x="199.2" y="479.6" text-anchor="middle">2.0</text>
<text class="tl" style="font-size:7.05px" x="247.4" y="479.6" text-anchor="middle">2.5</text>
<text class="tl" style="font-size:7.05px" x="295.6" y="479.6" text-anchor="middle">3.0</text>
<path class="tk" style="stroke:#9a9a9a" d="M35.1 453.1H37.8M35.1 413.9H37.8M35.1 374.6H37.8M35.1 335.4H37.8M35.1 296.2H37.8M54.7 468.4V471.1M102.9 468.4V471.1M151.1 468.4V471.1M199.2 468.4V471.1M247.4 468.4V471.1M295.6 468.4V471.1"/>
<text class="al" style="font-size:7.30px" transform="translate(14.3 372.8) rotate(-90)" text-anchor="middle">Mean Count Rate 1/[1min]</text>
<text class="al" clip-path="url(#clbot)" style="font-size:7.30px" x="166.7" y="488.5" text-anchor="middle">Energy (MeV)</text>
<rect class="lg" x="236.5" y="280.6" width="55.5" height="34.4" rx="1.8"/>
<path d="M238.6 286.1H254.5" stroke="#ff0000" stroke-width="1.44" opacity="0.8"/>
<text class="lt" style="font-size:7.05px" x="259.7" y="288.7">Sg</text>
<path d="M238.6 297.0H254.5" stroke="#0000ff" stroke-width="1.44" opacity="0.8"/>
<text class="lt" style="font-size:7.05px" x="259.7" y="299.6">Sg + Bg</text>
<path d="M238.6 307.9H254.5" stroke="#008000" stroke-width="1.44" opacity="0.8"/>
<text class="lt" style="font-size:7.05px" x="259.7" y="310.5">Bg</text>
<text class="anl anb" x="65.2" y="303.0" textLength="11.6" lengthAdjust="spacingAndGlyphs">c)</text>
<text class="an" x="81.1" y="303.0" textLength="53.3" lengthAdjust="spacingAndGlyphs">01:11:2019</text>
<g clip-path="url(#clAd)" fill="none" stroke-width="1.50" stroke-linejoin="round">
<path d="M340.6 438.5 L341.6 437.6 L342.6 436.0 L343.6 435.2 L344.6 437.0 L345.6 440.0 L346.6 442.0 L347.6 443.0 L348.6 443.3 L349.6 443.4 L350.6 444.1 L351.6 444.6 L352.6 445.0 L353.6 445.0 L354.6 445.2 L355.6 445.2 L356.6 445.3 L357.6 445.3 L358.6 445.4 L359.6 445.3 L360.6 445.3 L361.6 445.0 L362.6 445.0 L363.6 444.8 L364.6 444.7 L365.6 443.9 L366.6 442.2 L367.6 440.3 L368.6 440.2 L369.6 441.8 L370.6 444.0 L371.6 445.1 L372.6 445.6 L373.6 446.1 L374.6 446.2 L375.6 446.2 L376.6 446.1 L377.6 446.4 L378.6 446.5 L379.6 446.1 L380.6 446.1 L381.6 446.2 L382.6 446.4 L383.6 446.5 L384.6 446.1 L385.6 446.3 L386.6 446.6 L387.6 446.8 L388.6 446.8 L389.6 446.5 L390.6 446.8 L391.6 446.7 L392.6 446.5 L393.6 446.4 L394.6 446.4 L395.6 446.7 L396.6 446.1 L397.6 446.2 L398.6 446.2 L399.6 446.3 L400.6 446.3 L401.6 446.4 L402.6 446.5 L403.6 446.6 L404.6 446.8 L405.6 446.6 L406.6 446.6 L407.6 446.4 L408.6 446.7 L409.6 446.9 L410.6 447.0 L411.6 447.1 L412.6 446.9 L413.6 446.8 L414.6 446.6 L415.6 446.6 L416.6 446.5 L417.6 446.6 L418.6 446.7 L419.6 446.7 L420.6 446.9 L421.6 446.7 L422.6 446.6 L423.6 446.5 L424.6 446.8 L425.6 446.9 L426.6 447.0 L427.6 446.7 L428.6 446.8 L429.6 446.8 L430.6 446.8 L431.6 446.7 L432.6 446.7 L433.6 446.6 L434.6 446.8 L435.6 446.7 L436.6 446.9 L437.6 447.0 L438.6 447.0 L439.6 447.0 L440.6 446.7 L441.6 446.5 L442.6 446.5 L443.6 446.5 L444.6 446.7 L445.6 446.6 L446.6 446.7 L447.6 446.7 L448.6 446.4 L449.6 446.5 L450.6 446.7 L451.6 446.9 L452.6 447.0 L453.6 446.9 L454.6 447.4 L455.6 447.3 L456.6 447.1 L457.6 446.6 L458.6 446.6 L459.6 446.5 L460.6 446.6 L461.6 446.6 L462.6 447.0 L463.6 447.0 L464.6 447.0 L465.6 446.9 L466.6 447.0 L467.6 447.1 L468.6 447.2 L469.6 447.1 L470.6 447.1 L471.6 447.1 L472.6 447.2 L473.6 447.5 L474.6 447.2 L475.6 447.2 L476.6 447.0 L477.6 447.2 L478.6 446.9 L479.6 447.1 L480.6 447.2 L481.6 447.3 L482.6 447.0 L483.6 447.0 L484.6 447.2 L485.6 447.2 L486.6 447.0 L487.6 446.8 L488.6 447.0 L489.6 447.1 L490.6 447.1 L491.6 446.9 L492.6 447.2 L493.6 447.2 L494.6 447.3 L495.6 447.3 L496.6 447.3 L497.6 447.3 L498.6 447.2 L499.6 447.1 L500.6 447.3 L501.6 447.3 L502.6 447.3 L503.6 447.1 L504.6 446.9 L505.6 447.1 L506.6 447.4 L507.6 447.5 L508.6 447.3 L509.6 446.8 L510.6 446.8 L511.6 446.9 L512.6 447.1 L513.6 447.3 L514.6 447.4 L515.6 447.2 L516.6 447.0 L517.6 446.7 L518.6 447.0 L519.6 446.8 L520.6 446.9 L521.6 446.8 L522.6 447.2 L523.6 447.4 L524.6 447.4 L525.6 447.0 L526.6 446.8 L527.6 446.9 L528.6 447.1 L529.6 447.3 L530.6 447.1 L531.6 447.0 L532.6 446.9 L533.6 447.0 L534.6 447.0 L535.6 447.0 L536.6 446.9 L537.6 447.2 L538.6 447.2 L539.6 447.1 L540.6 447.0 L541.6 447.1 L542.6 447.2 L543.6 447.0 L544.6 446.9 L545.6 447.3 L546.6 447.3 L547.6 447.6 L548.6 447.5 L549.6 447.5 L550.6 447.4 L551.6 447.1 L552.6 446.8 L553.6 446.7 L554.6 446.7 L555.6 447.2 L556.6 447.4 L557.6 447.6 L558.6 447.6 L559.6 447.7 L560.6 447.6 L561.6 447.6 L562.6 447.6 L563.6 447.7 L564.6 447.8 L565.6 447.6 L566.6 447.4 L567.6 447.1 L568.6 447.0 L569.6 447.1 L570.6 447.1 L571.6 447.5 L572.6 447.1 L573.6 447.1 L574.6 446.9 L575.6 447.3 L576.6 447.5 L577.6 447.7 L578.6 447.6 L579.6 447.6 L580.6 447.3 L581.6 447.3 L582.6 447.3 L583.6 447.4 L584.6 447.3 L585.6 447.5 L586.6 447.5 L587.6 447.5" stroke="#ff0000"/>
<path d="M340.6 314.3 L341.6 311.9 L342.6 305.0 L343.6 301.9 L344.6 315.8 L345.6 341.2 L346.6 360.4 L347.6 368.3 L348.6 372.0 L349.6 373.9 L350.6 376.5 L351.6 379.1 L352.6 381.7 L353.6 383.5 L354.6 385.5 L355.6 386.8 L356.6 388.5 L357.6 389.9 L358.6 392.7 L359.6 395.6 L360.6 399.0 L361.6 401.2 L362.6 402.5 L363.6 402.0 L364.6 399.7 L365.6 393.7 L366.6 385.5 L367.6 379.1 L368.6 380.7 L369.6 389.9 L370.6 401.2 L371.6 409.2 L372.6 413.5 L373.6 416.3 L374.6 417.9 L375.6 419.0 L376.6 419.5 L377.6 420.1 L378.6 420.4 L379.6 419.9 L380.6 419.8 L381.6 419.8 L382.6 420.5 L383.6 421.5 L384.6 422.2 L385.6 423.4 L386.6 424.5 L387.6 425.6 L388.6 426.2 L389.6 426.3 L390.6 426.5 L391.6 426.3 L392.6 426.0 L393.6 425.9 L394.6 425.5 L395.6 425.4 L396.6 424.5 L397.6 424.1 L398.6 424.1 L399.6 424.6 L400.6 425.4 L401.6 426.3 L402.6 427.5 L403.6 428.3 L404.6 429.4 L405.6 429.8 L406.6 430.7 L407.6 431.2 L408.6 432.0 L409.6 432.6 L410.6 432.7 L411.6 432.4 L412.6 431.6 L413.6 430.9 L414.6 429.9 L415.6 429.6 L416.6 429.7 L417.6 430.5 L418.6 431.6 L419.6 432.5 L420.6 433.8 L421.6 434.3 L422.6 434.9 L423.6 435.1 L424.6 435.8 L425.6 436.1 L426.6 436.5 L427.6 436.4 L428.6 436.9 L429.6 437.1 L430.6 437.4 L431.6 437.8 L432.6 438.0 L433.6 438.2 L434.6 438.5 L435.6 438.8 L436.6 439.5 L437.6 439.5 L438.6 439.8 L439.6 439.7 L440.6 439.0 L441.6 437.4 L442.6 435.1 L443.6 431.6 L444.6 427.5 L445.6 422.9 L446.6 419.2 L447.6 417.3 L448.6 417.3 L449.6 420.3 L450.6 424.5 L451.6 429.5 L452.6 433.9 L453.6 437.4 L454.6 440.2 L455.6 441.2 L456.6 441.7 L457.6 441.7 L458.6 441.8 L459.6 441.8 L460.6 442.0 L461.6 442.3 L462.6 442.9 L463.6 442.9 L464.6 442.9 L465.6 442.8 L466.6 442.9 L467.6 443.0 L468.6 443.0 L469.6 443.0 L470.6 443.2 L471.6 443.2 L472.6 442.8 L473.6 442.1 L474.6 441.3 L475.6 441.2 L476.6 441.3 L477.6 441.7 L478.6 442.0 L479.6 442.4 L480.6 442.8 L481.6 443.0 L482.6 443.3 L483.6 443.9 L484.6 444.6 L485.6 445.2 L486.6 445.0 L487.6 444.8 L488.6 444.6 L489.6 444.7 L490.6 444.6 L491.6 444.6 L492.6 444.9 L493.6 445.1 L494.6 445.4 L495.6 445.8 L496.6 445.8 L497.6 445.7 L498.6 445.2 L499.6 445.2 L500.6 445.6 L501.6 445.8 L502.6 445.8 L503.6 445.3 L504.6 445.1 L505.6 445.2 L506.6 445.5 L507.6 445.7 L508.6 445.5 L509.6 445.0 L510.6 445.0 L511.6 445.2 L512.6 445.3 L513.6 445.3 L514.6 445.3 L515.6 445.1 L516.6 445.1 L517.6 444.8 L518.6 445.2 L519.6 444.9 L520.6 445.0 L521.6 445.2 L522.6 445.9 L523.6 446.4 L524.6 446.3 L525.6 445.8 L526.6 445.8 L527.6 445.7 L528.6 445.8 L529.6 445.8 L530.6 445.8 L531.6 446.0 L532.6 446.0 L533.6 446.0 L534.6 446.1 L535.6 446.1 L536.6 446.2 L537.6 446.5 L538.6 446.4 L539.6 446.3 L540.6 446.3 L541.6 446.2 L542.6 446.2 L543.6 445.9 L544.6 446.0 L545.6 446.5 L546.6 446.6 L547.6 446.8 L548.6 446.6 L549.6 445.8 L550.6 445.5 L551.6 444.8 L552.6 444.3 L553.6 443.7 L554.6 443.6 L555.6 444.0 L556.6 444.6 L557.6 444.9 L558.6 445.0 L559.6 444.9 L560.6 445.1 L561.6 445.6 L562.6 446.2 L563.6 446.7 L564.6 446.9 L565.6 446.7 L566.6 446.7 L567.6 446.7 L568.6 446.9 L569.6 446.9 L570.6 446.9 L571.6 447.3 L572.6 447.2 L573.6 447.2 L574.6 447.2 L575.6 447.6 L576.6 447.8 L577.6 447.9 L578.6 447.9 L579.6 447.6 L580.6 447.4 L581.6 447.1 L582.6 446.9 L583.6 447.1 L584.6 447.3 L585.6 447.6 L586.6 447.6 L587.6 447.6" stroke="#0000ff"/>
<path d="M340.6 322.8 L341.6 321.6 L342.6 316.2 L343.6 314.0 L344.6 325.9 L345.6 348.5 L346.6 365.3 L347.6 372.3 L348.6 375.6 L349.6 377.6 L350.6 379.5 L351.6 381.7 L352.6 383.7 L353.6 385.7 L354.6 387.4 L355.6 388.8 L356.6 390.2 L357.6 391.8 L358.6 394.5 L359.6 397.7 L360.6 400.8 L361.6 403.0 L362.6 404.3 L363.6 404.1 L364.6 402.0 L365.6 396.9 L366.6 390.3 L367.6 385.9 L368.6 387.7 L369.6 395.3 L370.6 404.4 L371.6 411.4 L372.6 415.2 L373.6 417.4 L374.6 418.6 L375.6 419.6 L376.6 420.2 L377.6 420.7 L378.6 421.0 L379.6 420.9 L380.6 421.0 L381.6 420.9 L382.6 421.2 L383.6 421.8 L384.6 422.9 L385.6 424.0 L386.6 424.9 L387.6 425.8 L388.6 426.4 L389.6 426.6 L390.6 426.6 L391.6 426.7 L392.6 426.6 L393.6 426.6 L394.6 426.3 L395.6 425.8 L396.6 425.4 L397.6 425.2 L398.6 425.2 L399.6 425.6 L400.6 426.4 L401.6 427.4 L402.6 428.4 L403.6 429.1 L404.6 429.8 L405.6 430.5 L406.6 431.3 L407.6 431.9 L408.6 432.5 L409.6 433.0 L410.6 433.0 L411.6 432.5 L412.6 431.7 L413.6 431.2 L414.6 430.6 L415.6 430.4 L416.6 430.4 L417.6 431.1 L418.6 432.1 L419.6 433.2 L420.6 434.1 L421.6 434.9 L422.6 435.3 L423.6 435.6 L424.6 435.9 L425.6 436.2 L426.6 436.7 L427.6 436.8 L428.6 437.2 L429.6 437.6 L430.6 438.0 L431.6 438.3 L432.6 438.5 L433.6 438.7 L434.6 438.9 L435.6 439.2 L436.6 439.7 L437.6 439.9 L438.6 440.1 L439.6 439.6 L440.6 439.0 L441.6 437.6 L442.6 435.5 L443.6 432.2 L444.6 428.0 L445.6 423.4 L446.6 419.5 L447.6 417.6 L448.6 418.0 L449.6 420.8 L450.6 425.1 L451.6 430.0 L452.6 434.3 L453.6 437.6 L454.6 439.7 L455.6 440.8 L456.6 441.5 L457.6 441.9 L458.6 442.3 L459.6 442.4 L460.6 442.5 L461.6 442.6 L462.6 442.8 L463.6 442.8 L464.6 442.9 L465.6 443.1 L466.6 443.1 L467.6 443.2 L468.6 443.1 L469.6 443.2 L470.6 443.1 L471.6 442.9 L472.6 442.5 L473.6 441.9 L474.6 441.5 L475.6 441.4 L476.6 441.5 L477.6 441.7 L478.6 442.1 L479.6 442.4 L480.6 442.9 L481.6 443.0 L482.6 443.5 L483.6 444.0 L484.6 444.6 L485.6 445.1 L486.6 445.3 L487.6 445.3 L488.6 445.0 L489.6 444.9 L490.6 444.9 L491.6 445.0 L492.6 445.0 L493.6 445.0 L494.6 445.1 L495.6 445.3 L496.6 445.5 L497.6 445.3 L498.6 445.2 L499.6 445.1 L500.6 445.3 L501.6 445.5 L502.6 445.6 L503.6 445.5 L504.6 445.5 L505.6 445.5 L506.6 445.5 L507.6 445.4 L508.6 445.4 L509.6 445.4 L510.6 445.4 L511.6 445.4 L512.6 445.2 L513.6 445.2 L514.6 445.0 L515.6 445.1 L516.6 445.2 L517.6 445.1 L518.6 445.2 L519.6 445.1 L520.6 445.3 L521.6 445.4 L522.6 445.7 L523.6 445.9 L524.6 445.9 L525.6 446.0 L526.6 446.0 L527.6 446.0 L528.6 445.9 L529.6 446.0 L530.6 446.0 L531.6 446.2 L532.6 446.1 L533.6 446.1 L534.6 446.1 L535.6 446.2 L536.6 446.3 L537.6 446.3 L538.6 446.3 L539.6 446.2 L540.6 446.3 L541.6 446.3 L542.6 446.1 L543.6 446.0 L544.6 446.0 L545.6 446.2 L546.6 446.3 L547.6 446.2 L548.6 446.1 L549.6 445.5 L550.6 445.2 L551.6 444.9 L552.6 444.7 L553.6 444.3 L554.6 444.1 L555.6 443.9 L556.6 444.1 L557.6 444.3 L558.6 444.6 L559.6 444.7 L560.6 445.0 L561.6 445.5 L562.6 445.9 L563.6 446.2 L564.6 446.3 L565.6 446.4 L566.6 446.6 L567.6 446.8 L568.6 446.9 L569.6 446.9 L570.6 447.0 L571.6 447.1 L572.6 447.3 L573.6 447.4 L574.6 447.5 L575.6 447.3 L576.6 447.3 L577.6 447.2 L578.6 447.2 L579.6 447.1 L580.6 447.0 L581.6 446.9 L582.6 446.8 L583.6 446.9 L584.6 447.0 L585.6 447.1 L586.6 447.0 L587.6 447.1" stroke="#008000"/>
</g>
<rect class="fr" style="stroke:#5c5c5c" x="341.5" y="276.3" width="251.1" height="186.5"/>
<text class="tl" style="font-size:6.95px" x="335.7" y="450.6" text-anchor="end">0</text>
<text class="tl" style="font-size:6.95px" x="335.7" y="412.2" text-anchor="end">100</text>
<text class="tl" style="font-size:6.95px" x="335.7" y="373.9" text-anchor="end">200</text>
<text class="tl" style="font-size:6.95px" x="335.7" y="335.5" text-anchor="end">300</text>
<text class="tl" style="font-size:6.95px" x="335.7" y="297.1" text-anchor="end">400</text>
<text class="tl" style="font-size:6.95px" x="357.7" y="473.8" text-anchor="middle">0.5</text>
<text class="tl" style="font-size:6.95px" x="404.7" y="473.8" text-anchor="middle">1.0</text>
<text class="tl" style="font-size:6.95px" x="451.7" y="473.8" text-anchor="middle">1.5</text>
<text class="tl" style="font-size:6.95px" x="498.6" y="473.8" text-anchor="middle">2.0</text>
<text class="tl" style="font-size:6.95px" x="545.6" y="473.8" text-anchor="middle">2.5</text>
<text class="tl" style="font-size:6.95px" x="592.6" y="473.8" text-anchor="middle">3.0</text>
<path class="tk" style="stroke:#5c5c5c" d="M338.8 448.1H341.5M338.8 409.7H341.5M338.8 371.4H341.5M338.8 333.0H341.5M338.8 294.6H341.5M357.7 462.8V465.5M404.7 462.8V465.5M451.7 462.8V465.5M498.6 462.8V465.5M545.6 462.8V465.5M592.6 462.8V465.5"/>
<text class="al" style="font-size:7.20px" transform="translate(318.4 369.6) rotate(-90)" text-anchor="middle">Mean Count Rate 1/[1min]</text>
<text class="al" style="font-size:7.20px" x="467.1" y="482.6" text-anchor="middle">Energy (MeV)</text>
<rect class="lg" x="534.8" y="279.6" width="54.5" height="34.4" rx="1.8"/>
<path d="M536.9 285.1H552.8" stroke="#ff0000" stroke-width="1.44" opacity="0.8"/>
<text class="lt" style="font-size:6.95px" x="558.0" y="287.7">Sg</text>
<path d="M536.9 296.0H552.8" stroke="#0000ff" stroke-width="1.44" opacity="0.8"/>
<text class="lt" style="font-size:6.95px" x="558.0" y="298.6">Sg + Bg</text>
<path d="M536.9 306.9H552.8" stroke="#008000" stroke-width="1.44" opacity="0.8"/>
<text class="lt" style="font-size:6.95px" x="558.0" y="309.5">Bg</text>
<text class="anl" x="388.5" y="303.8" textLength="13.0" lengthAdjust="spacingAndGlyphs">d)</text>
<text class="an" x="406.4" y="303.8" textLength="52.5" lengthAdjust="spacingAndGlyphs">27:11:2019</text>
<g clip-path="url(#clRa)" fill="none" stroke-width="1.45" stroke-linejoin="round">
<path d="M648.3 197.1 L649.3 196.8 L650.3 193.6 L651.3 188.1 L652.3 181.8 L653.3 188.7 L654.3 196.0 L655.3 197.5 L656.3 199.0 L657.3 200.1 L658.3 200.5 L659.3 198.2 L660.3 200.6 L661.3 201.8 L662.3 203.4 L663.3 202.6 L664.3 204.0 L665.3 202.1 L666.3 202.2 L667.3 208.1 L668.3 203.1 L669.3 201.2 L670.3 202.0 L671.3 203.8 L672.3 200.2 L673.3 203.0 L674.3 201.1 L675.3 192.2 L676.3 185.8 L677.3 192.1 L678.3 198.7 L679.3 201.8 L680.3 204.2 L681.3 203.3 L682.3 203.7 L683.3 202.5 L684.3 204.9 L685.3 202.1 L686.3 201.3 L687.3 202.5 L688.3 201.6 L689.3 203.6 L690.3 204.4 L691.3 203.2 L692.3 200.6 L693.3 200.8 L694.3 202.9 L695.3 200.5 L696.3 202.7 L697.3 200.1 L698.3 201.6 L699.3 202.9 L700.3 201.1 L701.3 203.3 L702.3 203.5 L703.3 204.2 L704.3 201.9 L705.3 202.3 L706.3 202.3 L707.3 202.8 L708.3 200.3 L709.3 202.8 L710.3 203.2 L711.3 200.6 L712.3 200.4 L713.3 201.8 L714.3 204.5 L715.3 203.0 L716.3 201.5 L717.3 202.2 L718.3 200.3 L719.3 204.0 L720.3 201.4 L721.3 203.1 L722.3 200.6 L723.3 202.4 L724.3 201.0 L725.3 203.2 L726.3 204.2 L727.3 203.8 L728.3 203.2 L729.3 203.7 L730.3 201.1 L731.3 201.0 L732.3 202.2 L733.3 203.8 L734.3 202.7 L735.3 203.4 L736.3 201.1 L737.3 202.3 L738.3 202.2 L739.3 203.2 L740.3 204.9 L741.3 203.6 L742.3 204.0 L743.3 202.5 L744.3 202.8 L745.3 203.7 L746.3 203.4 L747.3 201.4 L748.3 204.0 L749.3 204.0 L750.3 203.3 L751.3 203.9 L752.3 203.7 L753.3 202.4 L754.3 200.9 L755.3 205.4 L756.3 203.2 L757.3 203.2 L758.3 203.3 L759.3 203.4 L760.3 203.6 L761.3 202.3 L762.3 203.7 L763.3 203.4 L764.3 203.3 L765.3 203.3 L766.3 203.5 L767.3 202.5 L768.3 203.4 L769.3 203.3 L770.3 203.5 L771.3 204.3 L772.3 204.2 L773.3 204.4 L774.3 203.4 L775.3 204.1 L776.3 204.4 L777.3 203.4 L778.3 203.2 L779.3 205.1 L780.3 202.2 L781.3 203.6 L782.3 203.7 L783.3 202.8 L784.3 203.6 L785.3 204.2 L786.3 202.0 L787.3 204.6 L788.3 203.8 L789.3 203.1 L790.3 204.6 L791.3 203.9 L792.3 203.5 L793.3 202.1 L794.3 204.5 L795.3 203.9 L796.3 203.4 L797.3 203.8 L798.3 204.7 L799.3 203.6 L800.3 203.8 L801.3 203.6 L802.3 203.1 L803.3 203.2 L804.3 203.6 L805.3 203.7 L806.3 204.6 L807.3 204.0 L808.3 203.8 L809.3 204.2 L810.3 203.9 L811.3 204.5 L812.3 203.0 L813.3 202.6 L814.3 204.2 L815.3 203.7 L816.3 204.1 L817.3 203.2 L818.3 203.7 L819.3 203.9 L820.3 204.1 L821.3 203.9 L822.3 204.6 L823.3 203.6 L824.3 204.5 L825.3 203.7 L826.3 203.9 L827.3 203.3 L828.3 204.1 L829.3 203.4 L830.3 204.6 L831.3 203.7 L832.3 204.2 L833.3 203.9 L834.3 204.0 L835.3 203.5 L836.3 205.4 L837.3 203.9 L838.3 205.0 L839.3 203.3 L840.3 205.3 L841.3 204.7 L842.3 205.2 L843.3 203.1 L844.3 204.9 L845.3 204.0 L846.3 204.5 L847.3 205.3 L848.3 204.3 L849.3 203.7 L850.3 204.3 L851.3 203.6 L852.3 204.4 L853.3 204.1 L854.3 204.4 L855.3 203.9 L856.3 203.0 L857.3 203.9 L858.3 204.0 L859.3 204.6 L860.3 204.7 L861.3 203.2 L862.3 204.9 L863.3 204.8 L864.3 204.2 L865.3 204.5 L866.3 203.0 L867.3 205.7 L868.3 204.0 L869.3 203.8 L870.3 204.9 L871.3 204.6 L872.3 203.9 L873.3 203.2 L874.3 204.8 L875.3 205.2 L876.3 203.6 L877.3 203.3 L878.3 204.4 L879.3 205.6 L880.3 203.3 L881.3 204.3 L882.3 203.5 L883.3 204.3 L884.3 204.5 L885.3 204.5 L886.3 203.3 L887.3 203.3 L888.3 205.6 L889.3 204.8 L890.3 203.1 L891.3 204.5 L892.3 205.1 L893.3 204.2 L894.3 204.3 L895.3 204.3" stroke="#ff0000"/>
<path d="M648.3 164.8 L649.3 164.7 L650.3 162.3 L651.3 154.4 L652.3 150.9 L653.3 157.5 L654.3 165.3 L655.3 166.2 L656.3 166.9 L657.3 168.0 L658.3 170.5 L659.3 165.4 L660.3 167.7 L661.3 168.7 L662.3 169.8 L663.3 171.1 L664.3 172.7 L665.3 163.6 L666.3 154.7 L667.3 156.3 L668.3 156.4 L669.3 167.9 L670.3 176.3 L671.3 179.2 L672.3 175.5 L673.3 176.9 L674.3 176.8 L675.3 167.1 L676.3 161.3 L677.3 167.1 L678.3 176.3 L679.3 177.4 L680.3 178.7 L681.3 178.5 L682.3 178.8 L683.3 179.8 L684.3 182.4 L685.3 181.4 L686.3 179.6 L687.3 179.0 L688.3 181.6 L689.3 183.8 L690.3 183.3 L691.3 181.5 L692.3 179.3 L693.3 181.7 L694.3 181.6 L695.3 180.9 L696.3 183.8 L697.3 180.3 L698.3 181.1 L699.3 183.0 L700.3 181.6 L701.3 185.5 L702.3 184.1 L703.3 186.0 L704.3 184.1 L705.3 185.5 L706.3 185.8 L707.3 185.2 L708.3 184.6 L709.3 186.7 L710.3 186.3 L711.3 185.2 L712.3 184.5 L713.3 183.5 L714.3 190.2 L715.3 185.8 L716.3 183.4 L717.3 186.4 L718.3 184.0 L719.3 187.0 L720.3 184.1 L721.3 187.6 L722.3 183.7 L723.3 185.8 L724.3 185.3 L725.3 187.8 L726.3 189.0 L727.3 188.7 L728.3 188.4 L729.3 189.9 L730.3 188.3 L731.3 188.3 L732.3 189.3 L733.3 191.8 L734.3 189.5 L735.3 191.3 L736.3 189.9 L737.3 189.9 L738.3 191.7 L739.3 192.5 L740.3 194.1 L741.3 192.7 L742.3 193.5 L743.3 192.7 L744.3 192.9 L745.3 192.2 L746.3 194.8 L747.3 191.0 L748.3 193.3 L749.3 193.3 L750.3 191.1 L751.3 187.9 L752.3 188.3 L753.3 183.9 L754.3 183.2 L755.3 189.7 L756.3 188.5 L757.3 190.8 L758.3 192.2 L759.3 194.2 L760.3 194.9 L761.3 193.4 L762.3 194.7 L763.3 194.8 L764.3 195.9 L765.3 196.0 L766.3 195.9 L767.3 195.5 L768.3 196.3 L769.3 196.6 L770.3 196.6 L771.3 197.3 L772.3 197.3 L773.3 198.0 L774.3 196.2 L775.3 197.6 L776.3 197.2 L777.3 196.8 L778.3 196.0 L779.3 199.1 L780.3 197.5 L781.3 197.0 L782.3 196.4 L783.3 195.0 L784.3 197.6 L785.3 197.0 L786.3 196.4 L787.3 197.9 L788.3 199.8 L789.3 198.2 L790.3 199.9 L791.3 198.6 L792.3 198.6 L793.3 197.7 L794.3 199.4 L795.3 199.4 L796.3 198.5 L797.3 199.0 L798.3 200.0 L799.3 199.7 L800.3 200.3 L801.3 200.2 L802.3 198.4 L803.3 199.2 L804.3 199.6 L805.3 199.9 L806.3 201.0 L807.3 200.3 L808.3 200.3 L809.3 200.5 L810.3 199.9 L811.3 200.8 L812.3 200.0 L813.3 199.6 L814.3 200.8 L815.3 200.1 L816.3 200.4 L817.3 200.1 L818.3 199.9 L819.3 200.6 L820.3 201.1 L821.3 200.5 L822.3 201.6 L823.3 199.2 L824.3 201.7 L825.3 200.7 L826.3 200.5 L827.3 200.7 L828.3 201.4 L829.3 200.8 L830.3 201.5 L831.3 200.8 L832.3 201.2 L833.3 200.8 L834.3 200.5 L835.3 200.3 L836.3 202.3 L837.3 201.0 L838.3 201.9 L839.3 200.8 L840.3 202.4 L841.3 201.9 L842.3 202.5 L843.3 201.0 L844.3 202.9 L845.3 201.2 L846.3 201.5 L847.3 201.6 L848.3 201.8 L849.3 200.9 L850.3 200.8 L851.3 200.7 L852.3 201.5 L853.3 201.5 L854.3 201.7 L855.3 201.1 L856.3 199.2 L857.3 200.5 L858.3 200.3 L859.3 200.1 L860.3 200.6 L861.3 199.6 L862.3 201.7 L863.3 201.4 L864.3 200.6 L865.3 201.0 L866.3 199.1 L867.3 202.7 L868.3 201.3 L869.3 201.6 L870.3 203.2 L871.3 202.6 L872.3 202.1 L873.3 201.2 L874.3 202.6 L875.3 202.4 L876.3 200.6 L877.3 200.7 L878.3 202.4 L879.3 203.4 L880.3 201.4 L881.3 202.2 L882.3 202.3 L883.3 201.9 L884.3 201.5 L885.3 203.0 L886.3 201.7 L887.3 201.7 L888.3 204.4 L889.3 202.7 L890.3 201.7 L891.3 203.0 L892.3 202.9 L893.3 201.6 L894.3 203.4 L895.3 202.8" stroke="#0000ff"/>
<path d="M648.3 171.7 L649.3 171.9 L650.3 172.6 L651.3 170.7 L652.3 172.8 L653.3 172.9 L654.3 173.4 L655.3 173.7 L656.3 172.4 L657.3 172.1 L658.3 174.6 L659.3 171.8 L660.3 172.1 L661.3 171.4 L662.3 171.8 L663.3 173.6 L664.3 172.9 L665.3 165.5 L666.3 157.4 L667.3 152.8 L668.3 157.4 L669.3 169.9 L670.3 177.4 L671.3 179.8 L672.3 180.0 L673.3 178.6 L674.3 179.2 L675.3 179.7 L676.3 179.5 L677.3 179.4 L678.3 182.0 L679.3 179.4 L680.3 178.5 L681.3 178.2 L682.3 178.8 L683.3 180.5 L684.3 182.0 L685.3 183.6 L686.3 183.0 L687.3 180.9 L688.3 183.9 L689.3 184.6 L690.3 183.0 L691.3 182.9 L692.3 183.1 L693.3 184.7 L694.3 183.0 L695.3 184.7 L696.3 185.2 L697.3 184.9 L698.3 184.6 L699.3 184.2 L700.3 184.5 L701.3 185.3 L702.3 184.8 L703.3 185.8 L704.3 185.4 L705.3 187.6 L706.3 188.0 L707.3 186.3 L708.3 188.3 L709.3 187.7 L710.3 187.7 L711.3 188.1 L712.3 188.2 L713.3 186.8 L714.3 189.9 L715.3 187.2 L716.3 186.1 L717.3 187.9 L718.3 187.9 L719.3 187.3 L720.3 186.5 L721.3 188.9 L722.3 187.8 L723.3 188.1 L724.3 187.7 L725.3 188.4 L726.3 188.4 L727.3 189.6 L728.3 189.7 L729.3 190.7 L730.3 191.1 L731.3 191.0 L732.3 191.3 L733.3 192.3 L734.3 190.7 L735.3 192.2 L736.3 193.3 L737.3 191.9 L738.3 193.4 L739.3 192.8 L740.3 193.4 L741.3 193.4 L742.3 193.7 L743.3 194.3 L744.3 194.1 L745.3 192.9 L746.3 195.6 L747.3 194.0 L748.3 193.2 L749.3 193.2 L750.3 192.1 L751.3 187.8 L752.3 188.3 L753.3 185.6 L754.3 187.1 L755.3 188.6 L756.3 190.1 L757.3 191.8 L758.3 193.0 L759.3 194.5 L760.3 195.4 L761.3 195.7 L762.3 195.3 L763.3 195.8 L764.3 197.0 L765.3 197.0 L766.3 196.6 L767.3 197.3 L768.3 197.3 L769.3 197.7 L770.3 197.5 L771.3 197.3 L772.3 197.1 L773.3 197.8 L774.3 196.8 L775.3 198.0 L776.3 196.4 L777.3 197.5 L778.3 197.7 L779.3 198.1 L780.3 199.1 L781.3 197.6 L782.3 197.3 L783.3 196.5 L784.3 198.4 L785.3 197.1 L786.3 198.5 L787.3 198.4 L788.3 200.2 L789.3 199.1 L790.3 199.5 L791.3 199.1 L792.3 199.5 L793.3 200.1 L794.3 199.2 L795.3 199.4 L796.3 199.5 L797.3 199.4 L798.3 199.4 L799.3 200.0 L800.3 200.6 L801.3 200.7 L802.3 199.5 L803.3 199.9 L804.3 200.2 L805.3 200.5 L806.3 200.3 L807.3 200.4 L808.3 200.6 L809.3 200.8 L810.3 199.7 L811.3 200.5 L812.3 200.9 L813.3 201.2 L814.3 201.0 L815.3 200.5 L816.3 200.5 L817.3 200.9 L818.3 200.9 L819.3 201.1 L820.3 201.4 L821.3 200.5 L822.3 200.9 L823.3 200.1 L824.3 201.4 L825.3 201.2 L826.3 200.8 L827.3 201.3 L828.3 201.8 L829.3 201.6 L830.3 201.2 L831.3 201.2 L832.3 201.4 L833.3 200.9 L834.3 201.0 L835.3 201.3 L836.3 201.4 L837.3 201.5 L838.3 201.2 L839.3 201.1 L840.3 201.4 L841.3 201.3 L842.3 201.6 L843.3 202.1 L844.3 201.9 L845.3 201.2 L846.3 201.4 L847.3 200.9 L848.3 201.5 L849.3 201.2 L850.3 201.1 L851.3 201.2 L852.3 201.8 L853.3 201.6 L854.3 201.3 L855.3 201.6 L856.3 200.9 L857.3 200.5 L858.3 200.9 L859.3 199.7 L860.3 200.5 L861.3 200.5 L862.3 200.7 L863.3 201.0 L864.3 200.8 L865.3 201.2 L866.3 200.8 L867.3 201.4 L868.3 201.5 L869.3 201.9 L870.3 202.5 L871.3 202.0 L872.3 202.3 L873.3 201.7 L874.3 202.1 L875.3 201.5 L876.3 201.8 L877.3 201.8 L878.3 202.1 L879.3 202.2 L880.3 202.0 L881.3 202.0 L882.3 202.6 L883.3 202.2 L884.3 201.4 L885.3 202.5 L886.3 202.6 L887.3 202.8 L888.3 203.2 L889.3 202.2 L890.3 202.6 L891.3 202.6 L892.3 202.0 L893.3 201.8 L894.3 203.2 L895.3 202.5" stroke="#008000"/>
</g>
<rect class="fr" style="stroke:#868686" x="649.2" y="38.4" width="246.4" height="182.8"/>
<text class="tl" style="font-size:6.82px" x="643.5" y="207.4" text-anchor="end">0</text>
<text class="tl" style="font-size:6.82px" x="643.5" y="174.1" text-anchor="end">10</text>
<text class="tl" style="font-size:6.82px" x="643.5" y="140.8" text-anchor="end">20</text>
<text class="tl" style="font-size:6.82px" x="643.5" y="107.5" text-anchor="end">30</text>
<text class="tl" style="font-size:6.82px" x="643.5" y="74.2" text-anchor="end">40</text>
<text class="tl" style="font-size:6.82px" x="643.5" y="40.9" text-anchor="end">50</text>
<text class="tl" style="font-size:6.82px" x="666.6" y="232.0" text-anchor="middle">0.5</text>
<text class="tl" style="font-size:6.82px" x="712.4" y="232.0" text-anchor="middle">1.0</text>
<text class="tl" style="font-size:6.82px" x="758.2" y="232.0" text-anchor="middle">1.5</text>
<text class="tl" style="font-size:6.82px" x="804.0" y="232.0" text-anchor="middle">2.0</text>
<text class="tl" style="font-size:6.82px" x="849.8" y="232.0" text-anchor="middle">2.5</text>
<text class="tl" style="font-size:6.82px" x="895.6" y="232.0" text-anchor="middle">3.0</text>
<path class="tk" style="stroke:#868686" d="M646.6 204.9H649.2M646.6 171.6H649.2M646.6 138.3H649.2M646.6 105.0H649.2M646.6 71.7H649.2M646.6 38.4H649.2M666.6 221.2V223.8M712.4 221.2V223.8M758.2 221.2V223.8M804.0 221.2V223.8M849.8 221.2V223.8M895.6 221.2V223.8"/>
<text class="al" style="font-size:7.06px" transform="translate(630.7 129.8) rotate(-90)" text-anchor="middle">Mean Count Rate 1/[1min]</text>
<text class="al" style="font-size:7.06px" x="772.4" y="240.6" text-anchor="middle">Energy (MeV)</text>
<rect class="lg" x="839.1" y="41.6" width="53.2" height="33.8" rx="1.8"/>
<path d="M841.1 47.0H856.8" stroke="#ff0000" stroke-width="1.41" opacity="0.8"/>
<text class="lt" style="font-size:6.82px" x="861.9" y="49.6">Sg</text>
<path d="M841.1 57.7H856.8" stroke="#0000ff" stroke-width="1.41" opacity="0.8"/>
<text class="lt" style="font-size:6.82px" x="861.9" y="60.3">Sg + Bg</text>
<path d="M841.1 68.4H856.8" stroke="#008000" stroke-width="1.41" opacity="0.8"/>
<text class="lt" style="font-size:6.82px" x="861.9" y="71.0">Bg</text>
<text class="anl" x="660.2" y="61.0" textLength="12.1" lengthAdjust="spacingAndGlyphs">a)</text>
<text class="an" x="676.6" y="61.0" textLength="51.3" lengthAdjust="spacingAndGlyphs">21:07:2020</text>
<g clip-path="url(#clRb)" fill="none" stroke-width="1.45" stroke-linejoin="round">
<path d="M940.5 165.5 L941.5 153.8 L942.5 113.6 L943.5 86.0 L944.5 90.1 L945.5 79.4 L946.5 73.8 L947.5 119.5 L948.5 156.4 L949.5 173.4 L950.5 181.5 L951.5 185.8 L952.5 186.3 L953.5 184.1 L954.5 188.6 L955.5 187.5 L956.5 186.1 L957.5 183.9 L958.5 186.4 L959.5 187.1 L960.5 189.2 L961.5 185.0 L962.5 187.8 L963.5 191.4 L964.5 194.4 L965.5 192.7 L966.5 188.9 L967.5 189.5 L968.5 182.0 L969.5 168.2 L970.5 138.4 L971.5 113.8 L972.5 124.6 L973.5 159.4 L974.5 181.7 L975.5 185.5 L976.5 193.5 L977.5 193.2 L978.5 191.6 L979.5 194.6 L980.5 196.4 L981.5 197.5 L982.5 194.2 L983.5 192.7 L984.5 190.7 L985.5 190.2 L986.5 185.4 L987.5 188.3 L988.5 189.0 L989.5 193.7 L990.5 194.5 L991.5 194.9 L992.5 195.5 L993.5 199.8 L994.5 196.8 L995.5 200.0 L996.5 200.9 L997.5 199.3 L998.5 201.1 L999.5 198.4 L1000.5 197.5 L1001.5 197.9 L1002.5 196.3 L1003.5 197.4 L1004.5 196.7 L1005.5 198.9 L1006.5 196.6 L1007.5 198.2 L1008.5 197.8 L1009.5 197.5 L1010.5 197.4 L1011.5 200.5 L1012.5 200.5 L1013.5 198.7 L1014.5 197.5 L1015.5 197.6 L1016.5 196.3 L1017.5 194.4 L1018.5 192.8 L1019.5 189.9 L1020.5 188.8 L1021.5 189.0 L1022.5 191.4 L1023.5 193.9 L1024.5 196.4 L1025.5 197.8 L1026.5 198.4 L1027.5 197.3 L1028.5 197.8 L1029.5 197.5 L1030.5 197.4 L1031.5 198.5 L1032.5 199.1 L1033.5 197.0 L1034.5 197.1 L1035.5 198.0 L1036.5 198.4 L1037.5 195.3 L1038.5 199.3 L1039.5 198.8 L1040.5 198.5 L1041.5 200.4 L1042.5 199.1 L1043.5 197.2 L1044.5 198.2 L1045.5 198.3 L1046.5 197.7 L1047.5 197.2 L1048.5 195.3 L1049.5 196.6 L1050.5 197.8 L1051.5 198.3 L1052.5 198.1 L1053.5 199.3 L1054.5 199.2 L1055.5 202.3 L1056.5 198.9 L1057.5 197.9 L1058.5 199.0 L1059.5 200.8 L1060.5 201.3 L1061.5 200.4 L1062.5 201.6 L1063.5 200.1 L1064.5 201.4 L1065.5 200.0 L1066.5 199.7 L1067.5 202.9 L1068.5 200.8 L1069.5 201.8 L1070.5 202.4 L1071.5 201.8 L1072.5 201.4 L1073.5 200.3 L1074.5 202.6 L1075.5 200.3 L1076.5 199.4 L1077.5 200.5 L1078.5 200.1 L1079.5 199.9 L1080.5 199.8 L1081.5 196.8 L1082.5 195.6 L1083.5 194.4 L1084.5 192.7 L1085.5 195.1 L1086.5 196.7 L1087.5 197.3 L1088.5 201.1 L1089.5 201.8 L1090.5 201.7 L1091.5 202.3 L1092.5 201.3 L1093.5 202.3 L1094.5 200.7 L1095.5 201.0 L1096.5 201.8 L1097.5 203.0 L1098.5 202.3 L1099.5 202.4 L1100.5 204.1 L1101.5 203.2 L1102.5 203.0 L1103.5 203.6 L1104.5 202.6 L1105.5 202.9 L1106.5 204.6 L1107.5 203.8 L1108.5 204.6 L1109.5 203.5 L1110.5 204.6 L1111.5 203.2 L1112.5 203.7 L1113.5 203.2 L1114.5 204.1 L1115.5 205.1 L1116.5 202.6 L1117.5 204.1 L1118.5 202.9 L1119.5 203.7 L1120.5 203.5 L1121.5 202.6 L1122.5 203.7 L1123.5 203.0 L1124.5 205.1 L1125.5 203.4 L1126.5 204.2 L1127.5 204.1 L1128.5 204.0 L1129.5 203.8 L1130.5 202.8 L1131.5 205.4 L1132.5 204.0 L1133.5 204.6 L1134.5 203.2 L1135.5 204.4 L1136.5 203.7 L1137.5 204.3 L1138.5 203.6 L1139.5 203.3 L1140.5 204.4 L1141.5 204.0 L1142.5 205.1 L1143.5 203.8 L1144.5 203.4 L1145.5 204.5 L1146.5 203.3 L1147.5 205.6 L1148.5 205.4 L1149.5 205.1 L1150.5 204.4 L1151.5 204.1 L1152.5 204.1 L1153.5 204.1 L1154.5 203.6 L1155.5 204.4 L1156.5 205.0 L1157.5 205.0 L1158.5 202.6 L1159.5 205.8 L1160.5 204.2 L1161.5 203.0 L1162.5 203.7 L1163.5 204.7 L1164.5 204.1 L1165.5 203.5 L1166.5 203.2 L1167.5 204.7 L1168.5 203.6 L1169.5 203.9 L1170.5 203.3 L1171.5 203.1 L1172.5 204.3 L1173.5 205.1 L1174.5 203.8 L1175.5 202.8 L1176.5 203.6 L1177.5 203.9 L1178.5 202.4 L1179.5 204.8 L1180.5 203.5 L1181.5 204.5 L1182.5 204.1 L1183.5 204.0 L1184.5 203.0 L1185.5 204.8 L1186.5 204.5" stroke="#ff0000"/>
<path d="M940.5 133.2 L941.5 122.6 L942.5 81.4 L943.5 54.6 L944.5 59.6 L945.5 48.2 L946.5 43.4 L947.5 90.2 L948.5 128.7 L949.5 145.8 L950.5 153.3 L951.5 157.7 L952.5 156.9 L953.5 154.4 L954.5 160.5 L955.5 161.2 L956.5 158.1 L957.5 155.1 L958.5 152.7 L959.5 146.2 L960.5 139.8 L961.5 138.1 L962.5 144.9 L963.5 157.7 L964.5 163.6 L965.5 165.6 L966.5 160.9 L967.5 165.5 L968.5 156.4 L969.5 140.7 L970.5 114.3 L971.5 89.4 L972.5 101.6 L973.5 138.5 L974.5 158.2 L975.5 163.0 L976.5 173.1 L977.5 172.6 L978.5 170.9 L979.5 175.0 L980.5 176.0 L981.5 176.5 L982.5 170.8 L983.5 174.0 L984.5 168.8 L985.5 168.3 L986.5 166.7 L987.5 168.7 L988.5 168.8 L989.5 174.2 L990.5 174.5 L991.5 174.2 L992.5 175.1 L993.5 181.2 L994.5 179.6 L995.5 180.4 L996.5 181.7 L997.5 179.5 L998.5 180.8 L999.5 180.3 L1000.5 177.3 L1001.5 177.9 L1002.5 176.4 L1003.5 179.6 L1004.5 177.8 L1005.5 179.5 L1006.5 178.4 L1007.5 180.4 L1008.5 178.2 L1009.5 179.2 L1010.5 179.1 L1011.5 183.2 L1012.5 181.2 L1013.5 180.3 L1014.5 181.9 L1015.5 180.4 L1016.5 178.2 L1017.5 175.9 L1018.5 176.5 L1019.5 173.1 L1020.5 172.4 L1021.5 171.6 L1022.5 175.4 L1023.5 178.5 L1024.5 181.2 L1025.5 182.5 L1026.5 183.3 L1027.5 183.5 L1028.5 182.2 L1029.5 183.9 L1030.5 183.1 L1031.5 184.7 L1032.5 185.2 L1033.5 182.9 L1034.5 185.0 L1035.5 185.7 L1036.5 187.9 L1037.5 182.9 L1038.5 188.7 L1039.5 187.6 L1040.5 188.6 L1041.5 191.3 L1042.5 188.3 L1043.5 187.5 L1044.5 188.0 L1045.5 188.1 L1046.5 186.5 L1047.5 185.3 L1048.5 184.2 L1049.5 183.1 L1050.5 184.7 L1051.5 185.5 L1052.5 184.2 L1053.5 186.7 L1054.5 188.7 L1055.5 194.3 L1056.5 191.1 L1057.5 190.2 L1058.5 192.2 L1059.5 194.4 L1060.5 195.4 L1061.5 194.7 L1062.5 195.1 L1063.5 193.7 L1064.5 194.8 L1065.5 193.9 L1066.5 193.2 L1067.5 196.5 L1068.5 195.1 L1069.5 196.3 L1070.5 195.5 L1071.5 195.9 L1072.5 195.2 L1073.5 195.0 L1074.5 197.0 L1075.5 195.5 L1076.5 193.8 L1077.5 194.0 L1078.5 193.6 L1079.5 194.3 L1080.5 194.3 L1081.5 191.9 L1082.5 190.7 L1083.5 189.0 L1084.5 187.1 L1085.5 190.4 L1086.5 191.1 L1087.5 192.8 L1088.5 197.1 L1089.5 197.6 L1090.5 197.7 L1091.5 197.5 L1092.5 196.3 L1093.5 197.2 L1094.5 195.4 L1095.5 195.8 L1096.5 196.6 L1097.5 198.7 L1098.5 197.2 L1099.5 197.5 L1100.5 199.6 L1101.5 198.2 L1102.5 198.9 L1103.5 199.4 L1104.5 198.2 L1105.5 198.4 L1106.5 200.4 L1107.5 199.9 L1108.5 199.9 L1109.5 198.7 L1110.5 200.4 L1111.5 198.1 L1112.5 200.0 L1113.5 199.5 L1114.5 199.9 L1115.5 201.7 L1116.5 199.1 L1117.5 199.9 L1118.5 199.4 L1119.5 200.2 L1120.5 199.4 L1121.5 197.8 L1122.5 199.7 L1123.5 198.4 L1124.5 201.4 L1125.5 199.9 L1126.5 200.5 L1127.5 200.6 L1128.5 199.8 L1129.5 200.2 L1130.5 198.3 L1131.5 202.1 L1132.5 200.3 L1133.5 200.4 L1134.5 199.7 L1135.5 200.7 L1136.5 201.0 L1137.5 200.6 L1138.5 200.5 L1139.5 198.5 L1140.5 200.8 L1141.5 200.6 L1142.5 202.0 L1143.5 200.8 L1144.5 200.4 L1145.5 200.5 L1146.5 199.9 L1147.5 202.4 L1148.5 202.3 L1149.5 201.8 L1150.5 200.5 L1151.5 200.8 L1152.5 201.7 L1153.5 200.6 L1154.5 200.8 L1155.5 201.3 L1156.5 201.3 L1157.5 201.9 L1158.5 199.2 L1159.5 202.8 L1160.5 200.8 L1161.5 199.8 L1162.5 200.7 L1163.5 201.7 L1164.5 201.7 L1165.5 200.6 L1166.5 199.8 L1167.5 202.0 L1168.5 200.1 L1169.5 201.4 L1170.5 201.2 L1171.5 201.0 L1172.5 200.8 L1173.5 202.5 L1174.5 201.1 L1175.5 200.7 L1176.5 200.5 L1177.5 202.1 L1178.5 200.2 L1179.5 202.2 L1180.5 201.1 L1181.5 202.7 L1182.5 201.8 L1183.5 202.2 L1184.5 201.6 L1185.5 202.9 L1186.5 203.1" stroke="#0000ff"/>
<path d="M940.5 170.6 L941.5 173.0 L942.5 171.4 L943.5 172.8 L944.5 172.7 L945.5 172.5 L946.5 174.1 L947.5 174.5 L948.5 176.6 L949.5 176.7 L950.5 175.5 L951.5 174.9 L952.5 175.1 L953.5 174.4 L954.5 176.3 L955.5 176.4 L956.5 175.0 L957.5 173.8 L958.5 169.6 L959.5 163.9 L960.5 155.0 L961.5 157.0 L962.5 161.1 L963.5 170.8 L964.5 173.0 L965.5 177.1 L966.5 176.0 L967.5 178.7 L968.5 178.1 L969.5 177.1 L970.5 179.6 L971.5 179.4 L972.5 180.6 L973.5 182.8 L974.5 181.0 L975.5 181.3 L976.5 182.9 L977.5 181.7 L978.5 183.0 L979.5 183.3 L980.5 182.6 L981.5 183.3 L982.5 180.9 L983.5 184.2 L984.5 182.4 L985.5 182.3 L986.5 184.8 L987.5 184.7 L988.5 182.9 L989.5 183.8 L990.5 183.2 L991.5 182.7 L992.5 184.0 L993.5 184.6 L994.5 186.1 L995.5 183.8 L996.5 184.8 L997.5 183.9 L998.5 184.1 L999.5 185.5 L1000.5 183.1 L1001.5 183.7 L1002.5 184.0 L1003.5 185.7 L1004.5 185.2 L1005.5 185.4 L1006.5 185.4 L1007.5 186.1 L1008.5 185.0 L1009.5 185.3 L1010.5 185.3 L1011.5 186.1 L1012.5 184.8 L1013.5 185.8 L1014.5 188.2 L1015.5 186.7 L1016.5 186.4 L1017.5 185.8 L1018.5 187.0 L1019.5 187.1 L1020.5 187.6 L1021.5 186.8 L1022.5 187.9 L1023.5 188.2 L1024.5 188.5 L1025.5 187.8 L1026.5 188.9 L1027.5 189.9 L1028.5 188.6 L1029.5 189.8 L1030.5 189.4 L1031.5 189.7 L1032.5 189.6 L1033.5 190.1 L1034.5 191.7 L1035.5 191.8 L1036.5 193.0 L1037.5 191.6 L1038.5 192.7 L1039.5 192.5 L1040.5 193.8 L1041.5 195.1 L1042.5 193.2 L1043.5 194.1 L1044.5 194.0 L1045.5 193.8 L1046.5 192.9 L1047.5 192.3 L1048.5 192.8 L1049.5 190.3 L1050.5 190.9 L1051.5 191.0 L1052.5 190.2 L1053.5 191.7 L1054.5 193.8 L1055.5 195.8 L1056.5 195.7 L1057.5 196.2 L1058.5 197.0 L1059.5 197.9 L1060.5 197.9 L1061.5 198.2 L1062.5 197.6 L1063.5 197.4 L1064.5 197.4 L1065.5 198.2 L1066.5 197.8 L1067.5 197.7 L1068.5 198.3 L1069.5 198.2 L1070.5 197.2 L1071.5 198.1 L1072.5 197.8 L1073.5 198.4 L1074.5 198.3 L1075.5 199.1 L1076.5 198.4 L1077.5 197.9 L1078.5 197.5 L1079.5 197.9 L1080.5 198.2 L1081.5 198.5 L1082.5 198.8 L1083.5 198.7 L1084.5 198.4 L1085.5 199.0 L1086.5 198.3 L1087.5 199.2 L1088.5 199.6 L1089.5 199.3 L1090.5 199.6 L1091.5 199.6 L1092.5 198.5 L1093.5 199.2 L1094.5 199.0 L1095.5 198.7 L1096.5 198.7 L1097.5 199.5 L1098.5 198.8 L1099.5 199.2 L1100.5 199.4 L1101.5 199.3 L1102.5 200.1 L1103.5 199.8 L1104.5 199.6 L1105.5 199.4 L1106.5 199.8 L1107.5 199.7 L1108.5 199.3 L1109.5 199.2 L1110.5 199.5 L1111.5 199.3 L1112.5 200.0 L1113.5 200.0 L1114.5 199.8 L1115.5 200.1 L1116.5 200.2 L1117.5 199.4 L1118.5 200.1 L1119.5 200.4 L1120.5 199.9 L1121.5 199.4 L1122.5 200.1 L1123.5 199.7 L1124.5 200.3 L1125.5 200.4 L1126.5 200.5 L1127.5 200.3 L1128.5 199.5 L1129.5 200.7 L1130.5 199.6 L1131.5 200.6 L1132.5 200.4 L1133.5 200.0 L1134.5 200.1 L1135.5 200.2 L1136.5 201.0 L1137.5 200.2 L1138.5 200.7 L1139.5 199.4 L1140.5 200.5 L1141.5 200.3 L1142.5 200.8 L1143.5 200.6 L1144.5 200.9 L1145.5 200.1 L1146.5 200.6 L1147.5 200.3 L1148.5 200.8 L1149.5 200.7 L1150.5 200.1 L1151.5 200.9 L1152.5 201.2 L1153.5 200.5 L1154.5 201.0 L1155.5 200.8 L1156.5 200.3 L1157.5 201.0 L1158.5 200.4 L1159.5 201.0 L1160.5 200.2 L1161.5 200.3 L1162.5 201.0 L1163.5 200.9 L1164.5 201.2 L1165.5 200.8 L1166.5 200.5 L1167.5 201.5 L1168.5 200.7 L1169.5 201.6 L1170.5 201.5 L1171.5 201.8 L1172.5 200.5 L1173.5 201.3 L1174.5 201.3 L1175.5 201.7 L1176.5 201.2 L1177.5 202.4 L1178.5 201.7 L1179.5 201.1 L1180.5 202.1 L1181.5 202.0 L1182.5 201.9 L1183.5 202.5 L1184.5 202.3 L1185.5 202.1 L1186.5 202.4" stroke="#008000"/>
</g>
<rect class="fr" style="stroke:#888888" x="941.4" y="38.4" width="246.0" height="182.8"/>
<text class="tl" style="font-size:6.82px" x="935.7" y="207.1" text-anchor="end">0</text>
<text class="tl" style="font-size:6.82px" x="935.7" y="173.8" text-anchor="end">10</text>
<text class="tl" style="font-size:6.82px" x="935.7" y="140.6" text-anchor="end">20</text>
<text class="tl" style="font-size:6.82px" x="935.7" y="107.3" text-anchor="end">30</text>
<text class="tl" style="font-size:6.82px" x="935.7" y="74.1" text-anchor="end">40</text>
<text class="tl" style="font-size:6.82px" x="935.7" y="40.9" text-anchor="end">50</text>
<text class="tl" style="font-size:6.82px" x="961.9" y="232.0" text-anchor="middle">0.5</text>
<text class="tl" style="font-size:6.82px" x="1007.0" y="232.0" text-anchor="middle">1.0</text>
<text class="tl" style="font-size:6.82px" x="1052.1" y="232.0" text-anchor="middle">1.5</text>
<text class="tl" style="font-size:6.82px" x="1097.2" y="232.0" text-anchor="middle">2.0</text>
<text class="tl" style="font-size:6.82px" x="1142.3" y="232.0" text-anchor="middle">2.5</text>
<text class="tl" style="font-size:6.82px" x="1187.4" y="232.0" text-anchor="middle">3.0</text>
<path class="tk" style="stroke:#888888" d="M938.8 204.6H941.4M938.8 171.4H941.4M938.8 138.1H941.4M938.8 104.9H941.4M938.8 71.6H941.4M938.8 38.4H941.4M961.9 221.2V223.8M1007.0 221.2V223.8M1052.1 221.2V223.8M1097.2 221.2V223.8M1142.3 221.2V223.8M1187.4 221.2V223.8"/>
<text class="al" style="font-size:7.06px" transform="translate(922.9 129.8) rotate(-90)" text-anchor="middle">Mean Count Rate 1/[1min]</text>
<text class="al" style="font-size:7.06px" x="1064.4" y="240.6" text-anchor="middle">Energy (MeV)</text>
<rect class="lg" x="1130.9" y="41.6" width="53.3" height="33.8" rx="1.8"/>
<path d="M1132.9 47.0H1148.6" stroke="#ff0000" stroke-width="1.41" opacity="0.8"/>
<text class="lt" style="font-size:6.82px" x="1153.7" y="49.6">Sg</text>
<path d="M1132.9 57.7H1148.6" stroke="#0000ff" stroke-width="1.41" opacity="0.8"/>
<text class="lt" style="font-size:6.82px" x="1153.7" y="60.3">Sg + Bg</text>
<path d="M1132.9 68.4H1148.6" stroke="#008000" stroke-width="1.41" opacity="0.8"/>
<text class="lt" style="font-size:6.82px" x="1153.7" y="71.0">Bg</text>
<text class="anl" x="972.2" y="61.5" textLength="12.6" lengthAdjust="spacingAndGlyphs">b)</text>
<text class="an" x="989.1" y="61.5" textLength="51.3" lengthAdjust="spacingAndGlyphs">24:07:2020</text>
<g clip-path="url(#clRc)" fill="none" stroke-width="1.45" stroke-linejoin="round">
<path d="M649.5 356.8 L650.5 357.4 L651.5 391.2 L652.5 396.6 L653.5 373.6 L654.5 336.2 L655.5 349.2 L656.5 391.2 L657.5 414.8 L658.5 423.2 L659.5 422.1 L660.5 426.0 L661.5 425.9 L662.5 427.9 L663.5 428.9 L664.5 428.5 L665.5 429.9 L666.5 427.8 L667.5 427.1 L668.5 426.7 L669.5 425.1 L670.5 419.8 L671.5 427.6 L672.5 429.3 L673.5 426.2 L674.5 426.5 L675.5 423.2 L676.5 415.7 L677.5 399.9 L678.5 384.7 L679.5 387.3 L680.5 407.5 L681.5 422.3 L682.5 429.7 L683.5 430.9 L684.5 427.9 L685.5 428.7 L686.5 431.5 L687.5 431.5 L688.5 430.8 L689.5 429.0 L690.5 431.5 L691.5 429.3 L692.5 431.7 L693.5 429.7 L694.5 427.1 L695.5 427.8 L696.5 433.0 L697.5 433.6 L698.5 431.3 L699.5 433.1 L700.5 433.3 L701.5 431.7 L702.5 432.2 L703.5 430.8 L704.5 431.3 L705.5 433.4 L706.5 432.8 L707.5 432.8 L708.5 435.0 L709.5 434.4 L710.5 425.9 L711.5 435.0 L712.5 432.7 L713.5 434.0 L714.5 434.9 L715.5 434.1 L716.5 434.4 L717.5 433.4 L718.5 435.7 L719.5 435.4 L720.5 435.2 L721.5 431.9 L722.5 432.0 L723.5 431.9 L724.5 428.3 L725.5 428.6 L726.5 429.9 L727.5 431.7 L728.5 429.7 L729.5 435.1 L730.5 431.3 L731.5 432.0 L732.5 433.4 L733.5 432.7 L734.5 433.3 L735.5 432.8 L736.5 431.8 L737.5 435.1 L738.5 432.0 L739.5 434.2 L740.5 432.2 L741.5 433.6 L742.5 432.9 L743.5 433.7 L744.5 433.3 L745.5 434.6 L746.5 435.7 L747.5 434.2 L748.5 434.2 L749.5 432.7 L750.5 436.9 L751.5 434.3 L752.5 431.9 L753.5 433.8 L754.5 431.9 L755.5 429.0 L756.5 430.8 L757.5 435.0 L758.5 433.2 L759.5 434.3 L760.5 435.2 L761.5 435.9 L762.5 436.1 L763.5 437.3 L764.5 436.9 L765.5 435.7 L766.5 436.3 L767.5 434.6 L768.5 436.7 L769.5 438.6 L770.5 436.6 L771.5 436.0 L772.5 435.9 L773.5 436.1 L774.5 436.9 L775.5 434.7 L776.5 436.7 L777.5 435.1 L778.5 435.3 L779.5 434.6 L780.5 429.9 L781.5 431.5 L782.5 429.6 L783.5 430.0 L784.5 433.0 L785.5 433.8 L786.5 435.4 L787.5 436.1 L788.5 433.8 L789.5 435.9 L790.5 435.9 L791.5 436.8 L792.5 436.6 L793.5 435.6 L794.5 435.9 L795.5 436.6 L796.5 437.3 L797.5 436.5 L798.5 438.5 L799.5 437.6 L800.5 437.7 L801.5 438.3 L802.5 437.6 L803.5 438.2 L804.5 438.3 L805.5 436.4 L806.5 437.2 L807.5 436.8 L808.5 437.7 L809.5 437.0 L810.5 437.1 L811.5 436.8 L812.5 436.0 L813.5 437.9 L814.5 437.5 L815.5 437.7 L816.5 440.3 L817.5 438.7 L818.5 437.7 L819.5 437.2 L820.5 438.1 L821.5 436.9 L822.5 436.7 L823.5 438.0 L824.5 436.6 L825.5 436.4 L826.5 437.3 L827.5 438.4 L828.5 436.6 L829.5 437.8 L830.5 438.0 L831.5 437.6 L832.5 438.1 L833.5 436.9 L834.5 437.1 L835.5 436.8 L836.5 437.2 L837.5 438.2 L838.5 437.8 L839.5 437.0 L840.5 437.9 L841.5 435.5 L842.5 437.8 L843.5 438.1 L844.5 436.8 L845.5 437.1 L846.5 437.6 L847.5 437.8 L848.5 437.3 L849.5 437.0 L850.5 437.0 L851.5 437.8 L852.5 437.3 L853.5 437.0 L854.5 437.0 L855.5 439.8 L856.5 438.2 L857.5 438.1 L858.5 437.7 L859.5 437.4 L860.5 436.9 L861.5 437.1 L862.5 437.6 L863.5 437.5 L864.5 436.2 L865.5 437.9 L866.5 437.3 L867.5 436.3 L868.5 437.2 L869.5 438.9 L870.5 437.2 L871.5 437.7 L872.5 437.5 L873.5 436.7 L874.5 437.1 L875.5 437.6 L876.5 436.7 L877.5 437.0 L878.5 437.3 L879.5 437.1 L880.5 437.1 L881.5 437.5 L882.5 437.6 L883.5 437.2 L884.5 437.9 L885.5 438.1 L886.5 436.3 L887.5 437.4 L888.5 437.2 L889.5 437.3 L890.5 437.1 L891.5 437.1 L892.5 437.1 L893.5 437.6 L894.5 436.4 L895.5 437.5" stroke="#ff0000"/>
<path d="M649.5 320.9 L650.5 324.4 L651.5 356.9 L652.5 363.3 L653.5 342.6 L654.5 305.3 L655.5 319.7 L656.5 363.5 L657.5 384.6 L658.5 397.9 L659.5 395.9 L660.5 399.5 L661.5 399.4 L662.5 401.5 L663.5 399.6 L664.5 398.9 L665.5 401.0 L666.5 398.3 L667.5 394.4 L668.5 384.7 L669.5 378.6 L670.5 374.6 L671.5 392.1 L672.5 399.7 L673.5 399.8 L674.5 400.5 L675.5 397.7 L676.5 390.2 L677.5 377.1 L678.5 360.5 L679.5 364.5 L680.5 385.5 L681.5 400.5 L682.5 407.5 L683.5 409.9 L684.5 407.6 L685.5 408.3 L686.5 411.1 L687.5 411.1 L688.5 409.1 L689.5 408.3 L690.5 411.6 L691.5 409.4 L692.5 411.4 L693.5 412.1 L694.5 407.4 L695.5 409.9 L696.5 415.1 L697.5 415.8 L698.5 413.4 L699.5 414.6 L700.5 415.2 L701.5 416.2 L702.5 415.3 L703.5 412.0 L704.5 414.2 L705.5 415.5 L706.5 415.6 L707.5 417.5 L708.5 420.4 L709.5 417.9 L710.5 409.0 L711.5 420.2 L712.5 417.1 L713.5 418.4 L714.5 420.9 L715.5 419.7 L716.5 418.8 L717.5 417.6 L718.5 421.4 L719.5 419.7 L720.5 421.4 L721.5 418.7 L722.5 419.7 L723.5 417.5 L724.5 415.8 L725.5 414.0 L726.5 416.9 L727.5 418.7 L728.5 418.2 L729.5 421.6 L730.5 419.4 L731.5 419.5 L732.5 422.6 L733.5 421.0 L734.5 421.1 L735.5 422.4 L736.5 420.2 L737.5 424.4 L738.5 421.3 L739.5 424.1 L740.5 421.7 L741.5 424.4 L742.5 423.5 L743.5 425.0 L744.5 425.7 L745.5 426.0 L746.5 426.9 L747.5 425.0 L748.5 425.9 L749.5 423.5 L750.5 429.2 L751.5 424.4 L752.5 420.8 L753.5 421.9 L754.5 418.9 L755.5 414.9 L756.5 416.4 L757.5 422.4 L758.5 420.5 L759.5 424.1 L760.5 426.6 L761.5 426.5 L762.5 427.8 L763.5 430.2 L764.5 430.3 L765.5 429.2 L766.5 429.0 L767.5 426.6 L768.5 429.9 L769.5 433.1 L770.5 429.5 L771.5 428.8 L772.5 429.1 L773.5 429.5 L774.5 429.2 L775.5 428.7 L776.5 429.7 L777.5 429.5 L778.5 429.1 L779.5 428.9 L780.5 423.8 L781.5 425.3 L782.5 423.7 L783.5 423.0 L784.5 427.4 L785.5 427.6 L786.5 429.2 L787.5 431.2 L788.5 428.3 L789.5 429.9 L790.5 431.0 L791.5 430.7 L792.5 431.4 L793.5 431.1 L794.5 431.9 L795.5 432.9 L796.5 433.7 L797.5 432.8 L798.5 434.9 L799.5 433.4 L800.5 435.0 L801.5 435.1 L802.5 434.8 L803.5 434.4 L804.5 434.6 L805.5 433.5 L806.5 434.1 L807.5 432.8 L808.5 434.5 L809.5 433.2 L810.5 434.0 L811.5 433.0 L812.5 432.2 L813.5 434.3 L814.5 433.3 L815.5 434.2 L816.5 436.7 L817.5 434.5 L818.5 433.8 L819.5 433.4 L820.5 434.4 L821.5 433.7 L822.5 432.8 L823.5 433.9 L824.5 433.4 L825.5 431.8 L826.5 434.3 L827.5 434.8 L828.5 432.6 L829.5 434.3 L830.5 434.9 L831.5 433.6 L832.5 434.3 L833.5 434.2 L834.5 432.9 L835.5 433.8 L836.5 434.6 L837.5 434.9 L838.5 434.5 L839.5 433.7 L840.5 434.7 L841.5 432.2 L842.5 434.4 L843.5 434.0 L844.5 432.8 L845.5 433.2 L846.5 434.8 L847.5 434.5 L848.5 434.0 L849.5 432.7 L850.5 433.0 L851.5 434.8 L852.5 433.6 L853.5 434.1 L854.5 433.4 L855.5 436.5 L856.5 434.6 L857.5 434.6 L858.5 434.2 L859.5 433.6 L860.5 434.0 L861.5 433.6 L862.5 433.6 L863.5 432.4 L864.5 432.5 L865.5 434.1 L866.5 433.9 L867.5 432.2 L868.5 434.3 L869.5 435.3 L870.5 433.2 L871.5 434.8 L872.5 433.6 L873.5 432.7 L874.5 434.1 L875.5 434.4 L876.5 434.0 L877.5 434.5 L878.5 434.1 L879.5 434.2 L880.5 434.1 L881.5 435.0 L882.5 434.4 L883.5 434.0 L884.5 435.4 L885.5 435.4 L886.5 433.0 L887.5 434.1 L888.5 434.7 L889.5 434.8 L890.5 434.5 L891.5 434.1 L892.5 435.5 L893.5 436.0 L894.5 434.5 L895.5 435.0" stroke="#0000ff"/>
<path d="M649.5 403.1 L650.5 404.1 L651.5 403.3 L652.5 405.7 L653.5 407.3 L654.5 407.0 L655.5 409.1 L656.5 409.9 L657.5 408.2 L658.5 411.7 L659.5 411.8 L660.5 411.5 L661.5 412.2 L662.5 412.5 L663.5 408.6 L664.5 409.7 L665.5 409.1 L666.5 407.6 L667.5 404.1 L668.5 397.4 L669.5 391.8 L670.5 392.7 L671.5 402.4 L672.5 408.2 L673.5 412.8 L674.5 412.3 L675.5 413.9 L676.5 412.7 L677.5 414.2 L678.5 414.6 L679.5 415.3 L680.5 416.2 L681.5 417.4 L682.5 416.0 L683.5 417.9 L684.5 418.1 L685.5 417.6 L686.5 418.2 L687.5 417.7 L688.5 417.3 L689.5 418.1 L690.5 418.4 L691.5 418.7 L692.5 418.3 L693.5 420.6 L694.5 419.1 L695.5 420.3 L696.5 420.8 L697.5 420.0 L698.5 420.6 L699.5 420.0 L700.5 419.9 L701.5 422.7 L702.5 421.2 L703.5 419.8 L704.5 420.9 L705.5 420.6 L706.5 421.8 L707.5 423.1 L708.5 423.1 L709.5 422.0 L710.5 422.0 L711.5 423.4 L712.5 423.2 L713.5 423.0 L714.5 424.6 L715.5 423.8 L716.5 422.6 L717.5 422.4 L718.5 424.1 L719.5 422.9 L720.5 424.7 L721.5 425.0 L722.5 426.1 L723.5 424.1 L724.5 425.2 L725.5 423.5 L726.5 425.0 L727.5 425.3 L728.5 426.7 L729.5 424.8 L730.5 426.1 L731.5 426.2 L732.5 427.7 L733.5 426.0 L734.5 426.2 L735.5 427.5 L736.5 427.4 L737.5 427.5 L738.5 427.5 L739.5 428.4 L740.5 427.7 L741.5 429.1 L742.5 429.6 L743.5 429.7 L744.5 431.0 L745.5 430.2 L746.5 429.3 L747.5 429.7 L748.5 430.3 L749.5 429.4 L750.5 430.4 L751.5 428.7 L752.5 427.4 L753.5 426.2 L754.5 426.2 L755.5 424.5 L756.5 423.8 L757.5 425.8 L758.5 426.0 L759.5 428.6 L760.5 429.9 L761.5 429.4 L762.5 430.5 L763.5 430.9 L764.5 431.5 L765.5 431.6 L766.5 431.1 L767.5 430.8 L768.5 431.7 L769.5 432.5 L770.5 431.1 L771.5 431.5 L772.5 431.4 L773.5 431.7 L774.5 430.7 L775.5 431.8 L776.5 431.7 L777.5 432.8 L778.5 432.2 L779.5 432.3 L780.5 432.1 L781.5 431.9 L782.5 432.5 L783.5 431.4 L784.5 432.8 L785.5 432.7 L786.5 432.5 L787.5 433.3 L788.5 432.6 L789.5 432.8 L790.5 433.4 L791.5 432.6 L792.5 433.5 L793.5 433.6 L794.5 434.3 L795.5 434.7 L796.5 434.5 L797.5 434.5 L798.5 434.7 L799.5 434.3 L800.5 435.6 L801.5 435.1 L802.5 435.4 L803.5 434.3 L804.5 435.0 L805.5 434.9 L806.5 435.2 L807.5 434.4 L808.5 434.9 L809.5 434.7 L810.5 435.5 L811.5 434.3 L812.5 434.6 L813.5 434.6 L814.5 434.3 L815.5 434.8 L816.5 434.8 L817.5 434.5 L818.5 434.6 L819.5 434.8 L820.5 434.7 L821.5 434.9 L822.5 434.5 L823.5 434.4 L824.5 434.8 L825.5 434.1 L826.5 435.3 L827.5 434.8 L828.5 434.1 L829.5 434.9 L830.5 435.3 L831.5 434.2 L832.5 434.6 L833.5 435.2 L834.5 434.5 L835.5 435.1 L836.5 435.2 L837.5 434.8 L838.5 434.9 L839.5 435.2 L840.5 434.9 L841.5 435.1 L842.5 434.7 L843.5 434.8 L844.5 434.5 L845.5 434.9 L846.5 435.2 L847.5 435.2 L848.5 434.8 L849.5 434.2 L850.5 434.4 L851.5 435.0 L852.5 434.4 L853.5 435.2 L854.5 434.4 L855.5 434.9 L856.5 434.5 L857.5 434.5 L858.5 434.9 L859.5 434.6 L860.5 435.1 L861.5 434.8 L862.5 434.4 L863.5 433.3 L864.5 434.5 L865.5 434.7 L866.5 435.2 L867.5 434.4 L868.5 435.4 L869.5 435.1 L870.5 434.8 L871.5 435.4 L872.5 434.4 L873.5 434.6 L874.5 435.2 L875.5 435.3 L876.5 435.6 L877.5 435.7 L878.5 435.1 L879.5 435.1 L880.5 435.2 L881.5 435.3 L882.5 435.7 L883.5 435.4 L884.5 436.1 L885.5 435.7 L886.5 435.2 L887.5 435.4 L888.5 436.1 L889.5 436.1 L890.5 435.6 L891.5 435.5 L892.5 436.7 L893.5 436.4 L894.5 436.2 L895.5 436.0" stroke="#008000"/>
</g>
<rect class="fr" style="stroke:#9c9c9c" x="650.4" y="275.1" width="245.2" height="180.3"/>
<text class="tl" style="font-size:6.75px" x="644.8" y="441.4" text-anchor="end">0</text>
<text class="tl" style="font-size:6.75px" x="644.8" y="408.7" text-anchor="end">10</text>
<text class="tl" style="font-size:6.75px" x="644.8" y="375.9" text-anchor="end">20</text>
<text class="tl" style="font-size:6.75px" x="644.8" y="343.1" text-anchor="end">30</text>
<text class="tl" style="font-size:6.75px" x="644.8" y="310.3" text-anchor="end">40</text>
<text class="tl" style="font-size:6.75px" x="644.8" y="277.5" text-anchor="end">50</text>
<text class="tl" style="font-size:6.75px" x="668.7" y="466.1" text-anchor="middle">0.5</text>
<text class="tl" style="font-size:6.75px" x="714.1" y="466.1" text-anchor="middle">1.0</text>
<text class="tl" style="font-size:6.75px" x="759.5" y="466.1" text-anchor="middle">1.5</text>
<text class="tl" style="font-size:6.75px" x="804.8" y="466.1" text-anchor="middle">2.0</text>
<text class="tl" style="font-size:6.75px" x="850.2" y="466.1" text-anchor="middle">2.5</text>
<text class="tl" style="font-size:6.75px" x="895.6" y="466.1" text-anchor="middle">3.0</text>
<path class="tk" style="stroke:#9c9c9c" d="M647.8 439.0H650.4M647.8 406.2H650.4M647.8 373.4H650.4M647.8 340.7H650.4M647.8 307.9H650.4M647.8 275.1H650.4M668.7 455.4V458.0M714.1 455.4V458.0M759.5 455.4V458.0M804.8 455.4V458.0M850.2 455.4V458.0M895.6 455.4V458.0"/>
<text class="al" style="font-size:6.99px" transform="translate(632.1 365.2) rotate(-90)" text-anchor="middle">Mean Count Rate 1/[1min]</text>
<text class="al" style="font-size:6.99px" x="773.0" y="474.6" text-anchor="middle">Energy (MeV)</text>
<rect class="lg" x="839.6" y="278.3" width="52.6" height="33.1" rx="1.8"/>
<path d="M841.6 283.6H856.9" stroke="#ff0000" stroke-width="1.38" opacity="0.8"/>
<text class="lt" style="font-size:6.75px" x="861.9" y="286.1">Sg</text>
<path d="M841.6 294.1H856.9" stroke="#0000ff" stroke-width="1.38" opacity="0.8"/>
<text class="lt" style="font-size:6.75px" x="861.9" y="296.6">Sg + Bg</text>
<path d="M841.6 304.6H856.9" stroke="#008000" stroke-width="1.38" opacity="0.8"/>
<text class="lt" style="font-size:6.75px" x="861.9" y="307.1">Bg</text>
<text class="anl anb" x="671.2" y="298.0" textLength="11.6" lengthAdjust="spacingAndGlyphs">c)</text>
<text class="an" x="686.6" y="298.0" textLength="62.3" lengthAdjust="spacingAndGlyphs">21:07:2020 at</text>
<text class="an" x="671.6" y="312.5" textLength="49.3" lengthAdjust="spacingAndGlyphs">Time 12:31</text>
<g clip-path="url(#clRd)" fill="none" stroke-width="1.45" stroke-linejoin="round">
<path d="M942.7 411.7 L943.7 400.9 L944.7 392.5 L945.7 379.6 L946.7 348.7 L947.7 347.2 L948.7 383.1 L949.7 411.9 L950.7 423.8 L951.7 421.9 L952.7 428.7 L953.7 428.7 L954.7 429.5 L955.7 428.5 L956.7 425.7 L957.7 428.3 L958.7 425.3 L959.7 424.4 L960.7 429.2 L961.7 426.8 L962.7 422.0 L963.7 420.2 L964.7 419.7 L965.7 426.3 L966.7 421.6 L967.7 421.3 L968.7 421.1 L969.7 415.9 L970.7 396.8 L971.7 379.9 L972.7 375.8 L973.7 393.1 L974.7 409.5 L975.7 420.8 L976.7 419.9 L977.7 429.1 L978.7 429.2 L979.7 427.0 L980.7 430.9 L981.7 427.2 L982.7 431.0 L983.7 428.9 L984.7 430.9 L985.7 430.2 L986.7 429.2 L987.7 429.8 L988.7 430.3 L989.7 425.9 L990.7 429.6 L991.7 431.1 L992.7 427.6 L993.7 427.5 L994.7 426.5 L995.7 425.2 L996.7 429.6 L997.7 425.9 L998.7 425.6 L999.7 427.4 L1000.7 427.0 L1001.7 432.4 L1002.7 428.9 L1003.7 425.6 L1004.7 431.9 L1005.7 430.7 L1006.7 430.2 L1007.7 430.5 L1008.7 429.5 L1009.7 435.3 L1010.7 433.0 L1011.7 432.0 L1012.7 435.2 L1013.7 433.4 L1014.7 430.6 L1015.7 431.3 L1016.7 431.9 L1017.7 434.4 L1018.7 427.5 L1019.7 424.2 L1020.7 426.4 L1021.7 429.5 L1022.7 427.7 L1023.7 432.7 L1024.7 433.6 L1025.7 432.0 L1026.7 432.6 L1027.7 432.5 L1028.7 432.0 L1029.7 430.8 L1030.7 431.2 L1031.7 432.7 L1032.7 431.2 L1033.7 430.4 L1034.7 431.3 L1035.7 429.3 L1036.7 429.6 L1037.7 431.5 L1038.7 430.0 L1039.7 428.2 L1040.7 428.8 L1041.7 430.8 L1042.7 430.0 L1043.7 432.1 L1044.7 433.4 L1045.7 431.4 L1046.7 432.1 L1047.7 432.1 L1048.7 433.2 L1049.7 433.0 L1050.7 434.4 L1051.7 433.2 L1052.7 432.9 L1053.7 434.1 L1054.7 433.1 L1055.7 435.9 L1056.7 434.8 L1057.7 432.5 L1058.7 432.2 L1059.7 433.7 L1060.7 434.0 L1061.7 435.1 L1062.7 433.6 L1063.7 433.2 L1064.7 435.2 L1065.7 433.4 L1066.7 433.4 L1067.7 433.5 L1068.7 434.8 L1069.7 433.4 L1070.7 435.1 L1071.7 432.5 L1072.7 433.7 L1073.7 434.8 L1074.7 432.5 L1075.7 432.4 L1076.7 433.5 L1077.7 429.9 L1078.7 431.5 L1079.7 429.5 L1080.7 428.9 L1081.7 433.2 L1082.7 431.4 L1083.7 433.2 L1084.7 433.5 L1085.7 434.6 L1086.7 433.4 L1087.7 434.6 L1088.7 434.5 L1089.7 434.1 L1090.7 434.7 L1091.7 432.6 L1092.7 434.8 L1093.7 434.4 L1094.7 434.2 L1095.7 434.0 L1096.7 433.5 L1097.7 433.5 L1098.7 434.4 L1099.7 434.5 L1100.7 434.3 L1101.7 433.8 L1102.7 433.9 L1103.7 434.9 L1104.7 436.1 L1105.7 433.0 L1106.7 433.9 L1107.7 434.5 L1108.7 434.4 L1109.7 435.1 L1110.7 435.4 L1111.7 435.0 L1112.7 434.9 L1113.7 435.2 L1114.7 435.9 L1115.7 435.0 L1116.7 434.4 L1117.7 435.2 L1118.7 434.8 L1119.7 436.4 L1120.7 435.1 L1121.7 435.0 L1122.7 435.8 L1123.7 436.2 L1124.7 434.7 L1125.7 435.6 L1126.7 434.6 L1127.7 435.3 L1128.7 434.6 L1129.7 435.3 L1130.7 436.2 L1131.7 435.1 L1132.7 435.3 L1133.7 434.6 L1134.7 435.5 L1135.7 435.4 L1136.7 434.5 L1137.7 434.3 L1138.7 434.6 L1139.7 434.4 L1140.7 434.9 L1141.7 434.6 L1142.7 434.6 L1143.7 434.9 L1144.7 435.2 L1145.7 435.1 L1146.7 433.5 L1147.7 435.2 L1148.7 435.4 L1149.7 435.5 L1150.7 435.3 L1151.7 435.1 L1152.7 436.1 L1153.7 436.8 L1154.7 435.1 L1155.7 436.5 L1156.7 435.1 L1157.7 435.2 L1158.7 434.5 L1159.7 434.1 L1160.7 435.0 L1161.7 435.7 L1162.7 436.2 L1163.7 435.9 L1164.7 435.3 L1165.7 436.8 L1166.7 435.2 L1167.7 435.3 L1168.7 434.8 L1169.7 435.5 L1170.7 435.2 L1171.7 435.8 L1172.7 435.6 L1173.7 436.5 L1174.7 435.1 L1175.7 434.1 L1176.7 435.1 L1177.7 434.9 L1178.7 435.9 L1179.7 434.1 L1180.7 435.7 L1181.7 434.5 L1182.7 435.0 L1183.7 435.8 L1184.7 434.3 L1185.7 435.0 L1186.7 434.9 L1187.7 434.7 L1188.7 435.0" stroke="#ff0000"/>
<path d="M942.7 379.9 L943.7 371.1 L944.7 360.4 L945.7 347.8 L946.7 319.4 L947.7 318.8 L948.7 354.1 L949.7 381.9 L950.7 394.9 L951.7 393.1 L952.7 400.1 L953.7 400.9 L954.7 400.6 L955.7 397.4 L956.7 394.7 L957.7 397.6 L958.7 394.1 L959.7 389.0 L960.7 388.4 L961.7 380.9 L962.7 375.3 L963.7 377.7 L964.7 384.7 L965.7 395.2 L966.7 391.6 L967.7 393.5 L968.7 394.3 L969.7 388.1 L970.7 368.5 L971.7 352.7 L972.7 349.6 L973.7 368.6 L974.7 382.6 L975.7 395.0 L976.7 395.3 L977.7 404.3 L978.7 402.2 L979.7 402.4 L980.7 404.6 L981.7 401.1 L982.7 406.3 L983.7 404.5 L984.7 406.2 L985.7 406.1 L986.7 404.8 L987.7 405.6 L988.7 405.7 L989.7 401.6 L990.7 404.6 L991.7 407.2 L992.7 406.2 L993.7 403.4 L994.7 405.0 L995.7 401.8 L996.7 407.9 L997.7 404.7 L998.7 402.6 L999.7 407.8 L1000.7 406.1 L1001.7 412.3 L1002.7 410.0 L1003.7 405.5 L1004.7 413.3 L1005.7 412.2 L1006.7 412.1 L1007.7 410.5 L1008.7 412.5 L1009.7 419.6 L1010.7 417.2 L1011.7 415.7 L1012.7 419.1 L1013.7 417.0 L1014.7 415.6 L1015.7 415.7 L1016.7 417.3 L1017.7 420.7 L1018.7 414.6 L1019.7 410.9 L1020.7 412.8 L1021.7 416.7 L1022.7 415.9 L1023.7 420.9 L1024.7 422.0 L1025.7 419.8 L1026.7 421.6 L1027.7 421.2 L1028.7 420.8 L1029.7 420.7 L1030.7 420.5 L1031.7 422.7 L1032.7 421.6 L1033.7 420.8 L1034.7 421.9 L1035.7 419.9 L1036.7 419.9 L1037.7 422.9 L1038.7 419.6 L1039.7 419.5 L1040.7 420.1 L1041.7 420.9 L1042.7 420.3 L1043.7 422.0 L1044.7 422.3 L1045.7 419.5 L1046.7 419.2 L1047.7 418.4 L1048.7 418.7 L1049.7 418.7 L1050.7 420.7 L1051.7 418.8 L1052.7 421.7 L1053.7 423.0 L1054.7 423.0 L1055.7 426.6 L1056.7 426.7 L1057.7 426.1 L1058.7 425.2 L1059.7 428.0 L1060.7 427.9 L1061.7 428.0 L1062.7 427.5 L1063.7 426.7 L1064.7 429.0 L1065.7 427.9 L1066.7 428.6 L1067.7 428.6 L1068.7 430.0 L1069.7 428.5 L1070.7 429.6 L1071.7 427.5 L1072.7 428.5 L1073.7 429.2 L1074.7 427.5 L1075.7 427.5 L1076.7 427.6 L1077.7 423.9 L1078.7 425.7 L1079.7 422.8 L1080.7 422.6 L1081.7 427.7 L1082.7 425.9 L1083.7 426.8 L1084.7 427.7 L1085.7 429.9 L1086.7 428.8 L1087.7 429.6 L1088.7 430.7 L1089.7 429.9 L1090.7 431.3 L1091.7 428.3 L1092.7 432.3 L1093.7 431.7 L1094.7 431.1 L1095.7 430.1 L1096.7 430.1 L1097.7 430.9 L1098.7 430.2 L1099.7 430.6 L1100.7 430.7 L1101.7 429.8 L1102.7 430.1 L1103.7 430.7 L1104.7 432.4 L1105.7 428.9 L1106.7 430.2 L1107.7 430.9 L1108.7 431.2 L1109.7 431.3 L1110.7 431.6 L1111.7 431.9 L1112.7 430.9 L1113.7 431.5 L1114.7 432.0 L1115.7 432.4 L1116.7 430.4 L1117.7 432.0 L1118.7 431.5 L1119.7 433.2 L1120.7 431.3 L1121.7 431.2 L1122.7 432.9 L1123.7 433.2 L1124.7 431.1 L1125.7 432.1 L1126.7 430.4 L1127.7 432.3 L1128.7 431.1 L1129.7 431.6 L1130.7 432.8 L1131.7 431.6 L1132.7 431.6 L1133.7 430.2 L1134.7 432.1 L1135.7 432.2 L1136.7 431.1 L1137.7 430.5 L1138.7 430.7 L1139.7 430.9 L1140.7 430.8 L1141.7 430.6 L1142.7 430.2 L1143.7 430.9 L1144.7 432.6 L1145.7 431.6 L1146.7 430.1 L1147.7 431.8 L1148.7 431.7 L1149.7 432.0 L1150.7 430.8 L1151.7 431.6 L1152.7 433.0 L1153.7 433.7 L1154.7 430.8 L1155.7 432.4 L1156.7 431.5 L1157.7 431.5 L1158.7 430.0 L1159.7 431.4 L1160.7 431.1 L1161.7 432.3 L1162.7 432.4 L1163.7 432.3 L1164.7 430.8 L1165.7 432.6 L1166.7 431.0 L1167.7 432.1 L1168.7 432.0 L1169.7 431.5 L1170.7 432.0 L1171.7 432.8 L1172.7 432.9 L1173.7 432.5 L1174.7 431.2 L1175.7 430.8 L1176.7 432.0 L1177.7 432.2 L1178.7 433.5 L1179.7 431.3 L1180.7 433.2 L1181.7 431.5 L1182.7 432.6 L1183.7 433.5 L1184.7 431.4 L1185.7 432.7 L1186.7 432.3 L1187.7 432.7 L1188.7 433.8" stroke="#0000ff"/>
<path d="M942.7 403.5 L943.7 406.2 L944.7 403.3 L945.7 403.9 L946.7 406.0 L947.7 406.4 L948.7 406.2 L949.7 405.4 L950.7 406.8 L951.7 407.6 L952.7 405.9 L953.7 407.9 L954.7 405.3 L955.7 403.8 L956.7 404.3 L957.7 403.6 L958.7 403.2 L959.7 400.3 L960.7 394.9 L961.7 389.6 L962.7 388.4 L963.7 394.6 L964.7 400.5 L965.7 404.1 L966.7 406.6 L967.7 408.3 L968.7 408.6 L969.7 408.5 L970.7 407.5 L971.7 408.8 L972.7 409.6 L973.7 410.5 L974.7 409.3 L975.7 410.0 L976.7 410.5 L977.7 410.4 L978.7 409.1 L979.7 410.9 L980.7 409.3 L981.7 409.8 L982.7 411.0 L983.7 410.3 L984.7 411.3 L985.7 412.0 L986.7 411.6 L987.7 412.3 L988.7 411.2 L989.7 411.8 L990.7 411.5 L991.7 411.5 L992.7 415.2 L993.7 412.5 L994.7 414.6 L995.7 413.2 L996.7 414.4 L997.7 413.9 L998.7 413.3 L999.7 416.2 L1000.7 415.0 L1001.7 415.6 L1002.7 417.4 L1003.7 415.8 L1004.7 416.6 L1005.7 417.4 L1006.7 418.0 L1007.7 415.3 L1008.7 418.4 L1009.7 419.8 L1010.7 419.5 L1011.7 419.5 L1012.7 419.9 L1013.7 420.1 L1014.7 421.2 L1015.7 420.5 L1016.7 421.6 L1017.7 422.6 L1018.7 422.6 L1019.7 422.7 L1020.7 422.2 L1021.7 422.8 L1022.7 423.6 L1023.7 423.7 L1024.7 423.8 L1025.7 423.0 L1026.7 424.8 L1027.7 424.4 L1028.7 424.5 L1029.7 425.7 L1030.7 425.2 L1031.7 425.4 L1032.7 426.0 L1033.7 425.5 L1034.7 425.5 L1035.7 425.6 L1036.7 426.5 L1037.7 426.4 L1038.7 425.4 L1039.7 427.4 L1040.7 426.7 L1041.7 426.3 L1042.7 426.6 L1043.7 425.9 L1044.7 425.4 L1045.7 424.0 L1046.7 422.4 L1047.7 422.2 L1048.7 421.0 L1049.7 420.8 L1050.7 421.4 L1051.7 422.1 L1052.7 424.2 L1053.7 424.6 L1054.7 425.4 L1055.7 426.5 L1056.7 427.5 L1057.7 429.1 L1058.7 428.2 L1059.7 429.5 L1060.7 429.3 L1061.7 428.6 L1062.7 430.2 L1063.7 429.5 L1064.7 429.9 L1065.7 430.3 L1066.7 430.8 L1067.7 430.4 L1068.7 430.8 L1069.7 430.2 L1070.7 430.1 L1071.7 431.1 L1072.7 430.6 L1073.7 430.3 L1074.7 430.5 L1075.7 430.3 L1076.7 429.6 L1077.7 429.6 L1078.7 430.2 L1079.7 429.6 L1080.7 429.1 L1081.7 430.0 L1082.7 430.0 L1083.7 429.1 L1084.7 429.5 L1085.7 431.0 L1086.7 431.2 L1087.7 430.7 L1088.7 431.6 L1089.7 431.5 L1090.7 431.8 L1091.7 431.6 L1092.7 432.9 L1093.7 432.8 L1094.7 432.4 L1095.7 431.6 L1096.7 432.1 L1097.7 432.6 L1098.7 431.8 L1099.7 431.7 L1100.7 432.1 L1101.7 432.1 L1102.7 431.8 L1103.7 431.5 L1104.7 431.9 L1105.7 431.8 L1106.7 432.0 L1107.7 432.1 L1108.7 432.3 L1109.7 431.9 L1110.7 432.1 L1111.7 432.1 L1112.7 431.7 L1113.7 431.8 L1114.7 431.7 L1115.7 432.6 L1116.7 431.8 L1117.7 432.2 L1118.7 432.3 L1119.7 432.3 L1120.7 431.5 L1121.7 431.7 L1122.7 432.3 L1123.7 432.4 L1124.7 432.0 L1125.7 432.2 L1126.7 431.4 L1127.7 432.5 L1128.7 432.7 L1129.7 432.1 L1130.7 432.0 L1131.7 431.9 L1132.7 431.7 L1133.7 431.2 L1134.7 432.1 L1135.7 432.2 L1136.7 432.6 L1137.7 431.9 L1138.7 431.7 L1139.7 432.1 L1140.7 431.6 L1141.7 432.0 L1142.7 431.4 L1143.7 431.9 L1144.7 432.4 L1145.7 432.2 L1146.7 432.6 L1147.7 432.6 L1148.7 431.9 L1149.7 431.7 L1150.7 431.3 L1151.7 432.0 L1152.7 432.1 L1153.7 432.4 L1154.7 431.6 L1155.7 431.9 L1156.7 432.2 L1157.7 431.7 L1158.7 431.8 L1159.7 432.7 L1160.7 431.7 L1161.7 431.9 L1162.7 432.1 L1163.7 432.2 L1164.7 431.4 L1165.7 431.5 L1166.7 431.4 L1167.7 432.5 L1168.7 432.4 L1169.7 431.9 L1170.7 432.7 L1171.7 432.6 L1172.7 433.0 L1173.7 431.8 L1174.7 432.1 L1175.7 432.4 L1176.7 432.6 L1177.7 432.9 L1178.7 432.9 L1179.7 432.6 L1180.7 433.2 L1181.7 432.6 L1182.7 433.3 L1183.7 433.5 L1184.7 432.8 L1185.7 433.4 L1186.7 433.2 L1187.7 433.7 L1188.7 434.4" stroke="#008000"/>
</g>
<rect class="fr" style="stroke:#9a9a9a" x="943.6" y="270.7" width="245.7" height="182.1"/>
<text class="tl" style="font-size:6.75px" x="938.0" y="438.7" text-anchor="end">0</text>
<text class="tl" style="font-size:6.75px" x="938.0" y="405.6" text-anchor="end">10</text>
<text class="tl" style="font-size:6.75px" x="938.0" y="372.5" text-anchor="end">20</text>
<text class="tl" style="font-size:6.75px" x="938.0" y="339.4" text-anchor="end">30</text>
<text class="tl" style="font-size:6.75px" x="938.0" y="306.2" text-anchor="end">40</text>
<text class="tl" style="font-size:6.75px" x="938.0" y="273.1" text-anchor="end">50</text>
<text class="tl" style="font-size:6.75px" x="962.3" y="463.5" text-anchor="middle">0.5</text>
<text class="tl" style="font-size:6.75px" x="1007.7" y="463.5" text-anchor="middle">1.0</text>
<text class="tl" style="font-size:6.75px" x="1053.1" y="463.5" text-anchor="middle">1.5</text>
<text class="tl" style="font-size:6.75px" x="1098.5" y="463.5" text-anchor="middle">2.0</text>
<text class="tl" style="font-size:6.75px" x="1143.9" y="463.5" text-anchor="middle">2.5</text>
<text class="tl" style="font-size:6.75px" x="1189.3" y="463.5" text-anchor="middle">3.0</text>
<path class="tk" style="stroke:#9a9a9a" d="M941.0 436.3H943.6M941.0 403.2H943.6M941.0 370.1H943.6M941.0 336.9H943.6M941.0 303.8H943.6M941.0 270.7H943.6M962.3 452.8V455.4M1007.7 452.8V455.4M1053.1 452.8V455.4M1098.5 452.8V455.4M1143.9 452.8V455.4M1189.3 452.8V455.4"/>
<text class="al" style="font-size:6.99px" transform="translate(925.3 361.8) rotate(-90)" text-anchor="middle">Mean Count Rate 1/[1min]</text>
<text class="al" style="font-size:6.99px" x="1066.5" y="472.0" text-anchor="middle">Energy (MeV)</text>
<rect class="lg" x="1132.7" y="274.2" width="52.7" height="33.1" rx="1.8"/>
<path d="M1134.7 279.5H1150.0" stroke="#ff0000" stroke-width="1.38" opacity="0.8"/>
<text class="lt" style="font-size:6.75px" x="1155.0" y="282.0">Sg</text>
<path d="M1134.7 290.0H1150.0" stroke="#0000ff" stroke-width="1.38" opacity="0.8"/>
<text class="lt" style="font-size:6.75px" x="1155.0" y="292.5">Sg + Bg</text>
<path d="M1134.7 300.5H1150.0" stroke="#008000" stroke-width="1.38" opacity="0.8"/>
<text class="lt" style="font-size:6.75px" x="1155.0" y="303.0">Bg</text>
<text class="anl" x="971.9" y="298.0" textLength="12.9" lengthAdjust="spacingAndGlyphs">d)</text>
<text class="an" x="989.1" y="298.0" textLength="61.8" lengthAdjust="spacingAndGlyphs">21:07:2020 at</text>
<text class="an" x="972.1" y="312.5" textLength="49.8" lengthAdjust="spacingAndGlyphs">Time 17:26</text>
</g>
</svg>
</body></html>
